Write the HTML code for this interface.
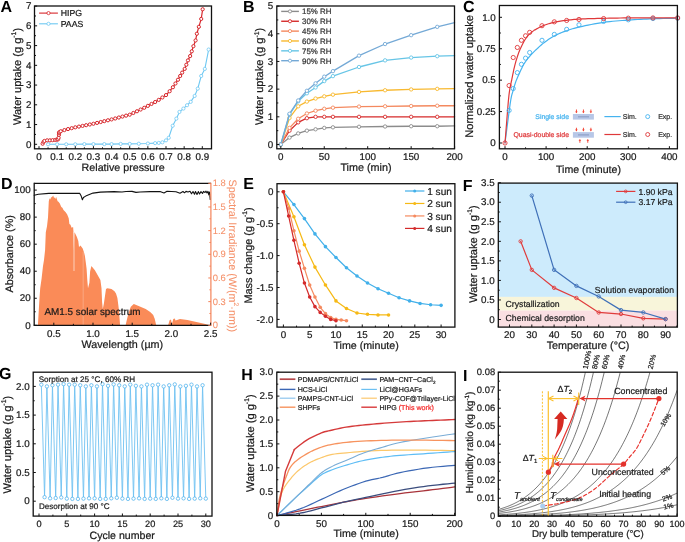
<!DOCTYPE html>
<html><head><meta charset="utf-8"><style>
html,body{margin:0;padding:0;background:#fff;}
svg{display:block;will-change:transform;text-rendering:geometricPrecision;font-family:"Liberation Sans", sans-serif;}
</style></head><body>
<svg width="685" height="542" viewBox="0 0 685 542">
<rect width="685" height="542" fill="#fff"/>
<text x="0.5" y="12.3" font-size="16" text-anchor="start" fill="#000" font-weight="bold" style="">A</text>
<polyline points="48.07,144.3 57.14,144.3 66.22,144.3 75.29,144.3 84.36,144.1 93.43,144.1 104.32,144.1 111.58,144.1 120.65,143.91 129.72,143.91 138.79,143.71 147.87,143.51 155.12,143.12 158.75,142.92 162.38,142.33 166.01,140.35 168.73,137.78 172.72,125.74 176.35,118.63 179.44,111.92 183.43,108.57 187.06,105.21 190.69,101.85 194.68,95.93 197.76,88.63 201.21,75.99 204.84,68.88 208.65,49.53" fill="none" stroke="#6ec8f2" stroke-width="1.1" stroke-linejoin="round" stroke-linecap="round"/>
<circle cx="48.07" cy="144.3" r="1.6" fill="#fff" stroke="#6ec8f2" stroke-width="0.8"/>
<circle cx="57.14" cy="144.3" r="1.6" fill="#fff" stroke="#6ec8f2" stroke-width="0.8"/>
<circle cx="66.22" cy="144.3" r="1.6" fill="#fff" stroke="#6ec8f2" stroke-width="0.8"/>
<circle cx="75.29" cy="144.3" r="1.6" fill="#fff" stroke="#6ec8f2" stroke-width="0.8"/>
<circle cx="84.36" cy="144.1" r="1.6" fill="#fff" stroke="#6ec8f2" stroke-width="0.8"/>
<circle cx="93.43" cy="144.1" r="1.6" fill="#fff" stroke="#6ec8f2" stroke-width="0.8"/>
<circle cx="104.32" cy="144.1" r="1.6" fill="#fff" stroke="#6ec8f2" stroke-width="0.8"/>
<circle cx="111.58" cy="144.1" r="1.6" fill="#fff" stroke="#6ec8f2" stroke-width="0.8"/>
<circle cx="120.65" cy="143.91" r="1.6" fill="#fff" stroke="#6ec8f2" stroke-width="0.8"/>
<circle cx="129.72" cy="143.91" r="1.6" fill="#fff" stroke="#6ec8f2" stroke-width="0.8"/>
<circle cx="138.79" cy="143.71" r="1.6" fill="#fff" stroke="#6ec8f2" stroke-width="0.8"/>
<circle cx="147.87" cy="143.51" r="1.6" fill="#fff" stroke="#6ec8f2" stroke-width="0.8"/>
<circle cx="155.12" cy="143.12" r="1.6" fill="#fff" stroke="#6ec8f2" stroke-width="0.8"/>
<circle cx="158.75" cy="142.92" r="1.6" fill="#fff" stroke="#6ec8f2" stroke-width="0.8"/>
<circle cx="162.38" cy="142.33" r="1.6" fill="#fff" stroke="#6ec8f2" stroke-width="0.8"/>
<circle cx="166.01" cy="140.35" r="1.6" fill="#fff" stroke="#6ec8f2" stroke-width="0.8"/>
<circle cx="168.73" cy="137.78" r="1.6" fill="#fff" stroke="#6ec8f2" stroke-width="0.8"/>
<circle cx="172.72" cy="125.74" r="1.6" fill="#fff" stroke="#6ec8f2" stroke-width="0.8"/>
<circle cx="176.35" cy="118.63" r="1.6" fill="#fff" stroke="#6ec8f2" stroke-width="0.8"/>
<circle cx="179.44" cy="111.92" r="1.6" fill="#fff" stroke="#6ec8f2" stroke-width="0.8"/>
<circle cx="183.43" cy="108.57" r="1.6" fill="#fff" stroke="#6ec8f2" stroke-width="0.8"/>
<circle cx="187.06" cy="105.21" r="1.6" fill="#fff" stroke="#6ec8f2" stroke-width="0.8"/>
<circle cx="190.69" cy="101.85" r="1.6" fill="#fff" stroke="#6ec8f2" stroke-width="0.8"/>
<circle cx="194.68" cy="95.93" r="1.6" fill="#fff" stroke="#6ec8f2" stroke-width="0.8"/>
<circle cx="197.76" cy="88.63" r="1.6" fill="#fff" stroke="#6ec8f2" stroke-width="0.8"/>
<circle cx="201.21" cy="75.99" r="1.6" fill="#fff" stroke="#6ec8f2" stroke-width="0.8"/>
<circle cx="204.84" cy="68.88" r="1.6" fill="#fff" stroke="#6ec8f2" stroke-width="0.8"/>
<circle cx="208.65" cy="49.53" r="1.6" fill="#fff" stroke="#6ec8f2" stroke-width="0.8"/>
<polyline points="42.63,143.71 43.54,141.93 44.44,140.94 47.16,140.35 49.89,140.35 52.61,140.15 55.33,139.96 57.14,139.56 58.05,139.36 58.6,137.78 58.96,134.82 58.96,132.85 59.5,132.06 60.77,131.27 64.4,130.09 68.03,129.06 71.66,128.19 75.29,127.32 78.92,126.61 82.55,125.9 86.18,125.19 89.8,124.48 93.43,123.77 97.06,122.9 100.69,122.03 104.32,121.16 107.95,120.29 111.58,119.42 115.21,118.48 118.84,117.53 122.46,116.58 126.09,115.63 129.72,114.69 133.35,112.97 136.98,111.26 140.61,109.54 144.24,107.79 147.87,105.87 151.5,103.94 155.12,102.02 158.75,99.86 162.38,97.47 166.01,95.07 169.64,91.24 172.91,87.24 175.45,83.49 177.99,79.74 180.16,75.99 182.16,72.63 184.7,68.88 186.33,64.74 187.97,60.39 190.14,56.05 191.78,51.31 193.41,46.18 195.59,40.45 196.86,33.74 198.85,26.83 201.21,18.93 202.66,9.26" fill="none" stroke="#d7262b" stroke-width="1.2" stroke-linejoin="round" stroke-linecap="round"/>
<circle cx="42.63" cy="143.71" r="1.6" fill="#fff" stroke="#d7262b" stroke-width="1.0"/>
<circle cx="43.54" cy="141.93" r="1.6" fill="#fff" stroke="#d7262b" stroke-width="1.0"/>
<circle cx="44.44" cy="140.94" r="1.6" fill="#fff" stroke="#d7262b" stroke-width="1.0"/>
<circle cx="47.16" cy="140.35" r="1.6" fill="#fff" stroke="#d7262b" stroke-width="1.0"/>
<circle cx="49.89" cy="140.35" r="1.6" fill="#fff" stroke="#d7262b" stroke-width="1.0"/>
<circle cx="52.61" cy="140.15" r="1.6" fill="#fff" stroke="#d7262b" stroke-width="1.0"/>
<circle cx="55.33" cy="139.96" r="1.6" fill="#fff" stroke="#d7262b" stroke-width="1.0"/>
<circle cx="57.14" cy="139.56" r="1.6" fill="#fff" stroke="#d7262b" stroke-width="1.0"/>
<circle cx="58.05" cy="139.36" r="1.6" fill="#fff" stroke="#d7262b" stroke-width="1.0"/>
<circle cx="58.6" cy="137.78" r="1.6" fill="#fff" stroke="#d7262b" stroke-width="1.0"/>
<circle cx="58.96" cy="134.82" r="1.6" fill="#fff" stroke="#d7262b" stroke-width="1.0"/>
<circle cx="58.96" cy="132.85" r="1.6" fill="#fff" stroke="#d7262b" stroke-width="1.0"/>
<circle cx="59.5" cy="132.06" r="1.6" fill="#fff" stroke="#d7262b" stroke-width="1.0"/>
<circle cx="60.77" cy="131.27" r="1.6" fill="#fff" stroke="#d7262b" stroke-width="1.0"/>
<circle cx="64.4" cy="130.09" r="1.6" fill="#fff" stroke="#d7262b" stroke-width="1.0"/>
<circle cx="68.03" cy="129.06" r="1.6" fill="#fff" stroke="#d7262b" stroke-width="1.0"/>
<circle cx="71.66" cy="128.19" r="1.6" fill="#fff" stroke="#d7262b" stroke-width="1.0"/>
<circle cx="75.29" cy="127.32" r="1.6" fill="#fff" stroke="#d7262b" stroke-width="1.0"/>
<circle cx="78.92" cy="126.61" r="1.6" fill="#fff" stroke="#d7262b" stroke-width="1.0"/>
<circle cx="82.55" cy="125.9" r="1.6" fill="#fff" stroke="#d7262b" stroke-width="1.0"/>
<circle cx="86.18" cy="125.19" r="1.6" fill="#fff" stroke="#d7262b" stroke-width="1.0"/>
<circle cx="89.8" cy="124.48" r="1.6" fill="#fff" stroke="#d7262b" stroke-width="1.0"/>
<circle cx="93.43" cy="123.77" r="1.6" fill="#fff" stroke="#d7262b" stroke-width="1.0"/>
<circle cx="97.06" cy="122.9" r="1.6" fill="#fff" stroke="#d7262b" stroke-width="1.0"/>
<circle cx="100.69" cy="122.03" r="1.6" fill="#fff" stroke="#d7262b" stroke-width="1.0"/>
<circle cx="104.32" cy="121.16" r="1.6" fill="#fff" stroke="#d7262b" stroke-width="1.0"/>
<circle cx="107.95" cy="120.29" r="1.6" fill="#fff" stroke="#d7262b" stroke-width="1.0"/>
<circle cx="111.58" cy="119.42" r="1.6" fill="#fff" stroke="#d7262b" stroke-width="1.0"/>
<circle cx="115.21" cy="118.48" r="1.6" fill="#fff" stroke="#d7262b" stroke-width="1.0"/>
<circle cx="118.84" cy="117.53" r="1.6" fill="#fff" stroke="#d7262b" stroke-width="1.0"/>
<circle cx="122.46" cy="116.58" r="1.6" fill="#fff" stroke="#d7262b" stroke-width="1.0"/>
<circle cx="126.09" cy="115.63" r="1.6" fill="#fff" stroke="#d7262b" stroke-width="1.0"/>
<circle cx="129.72" cy="114.69" r="1.6" fill="#fff" stroke="#d7262b" stroke-width="1.0"/>
<circle cx="133.35" cy="112.97" r="1.6" fill="#fff" stroke="#d7262b" stroke-width="1.0"/>
<circle cx="136.98" cy="111.26" r="1.6" fill="#fff" stroke="#d7262b" stroke-width="1.0"/>
<circle cx="140.61" cy="109.54" r="1.6" fill="#fff" stroke="#d7262b" stroke-width="1.0"/>
<circle cx="144.24" cy="107.79" r="1.6" fill="#fff" stroke="#d7262b" stroke-width="1.0"/>
<circle cx="147.87" cy="105.87" r="1.6" fill="#fff" stroke="#d7262b" stroke-width="1.0"/>
<circle cx="151.5" cy="103.94" r="1.6" fill="#fff" stroke="#d7262b" stroke-width="1.0"/>
<circle cx="155.12" cy="102.02" r="1.6" fill="#fff" stroke="#d7262b" stroke-width="1.0"/>
<circle cx="158.75" cy="99.86" r="1.6" fill="#fff" stroke="#d7262b" stroke-width="1.0"/>
<circle cx="162.38" cy="97.47" r="1.6" fill="#fff" stroke="#d7262b" stroke-width="1.0"/>
<circle cx="166.01" cy="95.07" r="1.6" fill="#fff" stroke="#d7262b" stroke-width="1.0"/>
<circle cx="169.64" cy="91.24" r="1.6" fill="#fff" stroke="#d7262b" stroke-width="1.0"/>
<circle cx="172.91" cy="87.24" r="1.6" fill="#fff" stroke="#d7262b" stroke-width="1.0"/>
<circle cx="175.45" cy="83.49" r="1.6" fill="#fff" stroke="#d7262b" stroke-width="1.0"/>
<circle cx="177.99" cy="79.74" r="1.6" fill="#fff" stroke="#d7262b" stroke-width="1.0"/>
<circle cx="180.16" cy="75.99" r="1.6" fill="#fff" stroke="#d7262b" stroke-width="1.0"/>
<circle cx="182.16" cy="72.63" r="1.6" fill="#fff" stroke="#d7262b" stroke-width="1.0"/>
<circle cx="184.7" cy="68.88" r="1.6" fill="#fff" stroke="#d7262b" stroke-width="1.0"/>
<circle cx="186.33" cy="64.74" r="1.6" fill="#fff" stroke="#d7262b" stroke-width="1.0"/>
<circle cx="187.97" cy="60.39" r="1.6" fill="#fff" stroke="#d7262b" stroke-width="1.0"/>
<circle cx="190.14" cy="56.05" r="1.6" fill="#fff" stroke="#d7262b" stroke-width="1.0"/>
<circle cx="191.78" cy="51.31" r="1.6" fill="#fff" stroke="#d7262b" stroke-width="1.0"/>
<circle cx="193.41" cy="46.18" r="1.6" fill="#fff" stroke="#d7262b" stroke-width="1.0"/>
<circle cx="195.59" cy="40.45" r="1.6" fill="#fff" stroke="#d7262b" stroke-width="1.0"/>
<circle cx="196.86" cy="33.74" r="1.6" fill="#fff" stroke="#d7262b" stroke-width="1.0"/>
<circle cx="198.85" cy="26.83" r="1.6" fill="#fff" stroke="#d7262b" stroke-width="1.0"/>
<circle cx="201.21" cy="18.93" r="1.6" fill="#fff" stroke="#d7262b" stroke-width="1.0"/>
<circle cx="202.66" cy="9.26" r="1.6" fill="#fff" stroke="#d7262b" stroke-width="1.0"/>
<rect x="34.5" y="6" width="177" height="142.8" fill="none" stroke="#111" stroke-width="1.3"/>
<line x1="39" y1="148.8" x2="39" y2="146.2" stroke="#111" stroke-width="1.0"/>
<line x1="57.14" y1="148.8" x2="57.14" y2="146.2" stroke="#111" stroke-width="1.0"/>
<line x1="75.29" y1="148.8" x2="75.29" y2="146.2" stroke="#111" stroke-width="1.0"/>
<line x1="93.43" y1="148.8" x2="93.43" y2="146.2" stroke="#111" stroke-width="1.0"/>
<line x1="111.58" y1="148.8" x2="111.58" y2="146.2" stroke="#111" stroke-width="1.0"/>
<line x1="129.72" y1="148.8" x2="129.72" y2="146.2" stroke="#111" stroke-width="1.0"/>
<line x1="147.87" y1="148.8" x2="147.87" y2="146.2" stroke="#111" stroke-width="1.0"/>
<line x1="166.01" y1="148.8" x2="166.01" y2="146.2" stroke="#111" stroke-width="1.0"/>
<line x1="184.16" y1="148.8" x2="184.16" y2="146.2" stroke="#111" stroke-width="1.0"/>
<line x1="202.3" y1="148.8" x2="202.3" y2="146.2" stroke="#111" stroke-width="1.0"/>
<line x1="48.07" y1="148.8" x2="48.07" y2="147.3" stroke="#111" stroke-width="1.0"/>
<line x1="66.22" y1="148.8" x2="66.22" y2="147.3" stroke="#111" stroke-width="1.0"/>
<line x1="84.36" y1="148.8" x2="84.36" y2="147.3" stroke="#111" stroke-width="1.0"/>
<line x1="102.51" y1="148.8" x2="102.51" y2="147.3" stroke="#111" stroke-width="1.0"/>
<line x1="120.65" y1="148.8" x2="120.65" y2="147.3" stroke="#111" stroke-width="1.0"/>
<line x1="138.79" y1="148.8" x2="138.79" y2="147.3" stroke="#111" stroke-width="1.0"/>
<line x1="156.94" y1="148.8" x2="156.94" y2="147.3" stroke="#111" stroke-width="1.0"/>
<line x1="175.08" y1="148.8" x2="175.08" y2="147.3" stroke="#111" stroke-width="1.0"/>
<line x1="193.23" y1="148.8" x2="193.23" y2="147.3" stroke="#111" stroke-width="1.0"/>
<text x="39" y="160" font-size="9.8" text-anchor="middle" fill="#1a1a1a" font-weight="normal" stroke="#1a1a1a" stroke-width="0.22" style="">0</text>
<text x="57.14" y="160" font-size="9.8" text-anchor="middle" fill="#1a1a1a" font-weight="normal" stroke="#1a1a1a" stroke-width="0.22" style="">0.1</text>
<text x="75.29" y="160" font-size="9.8" text-anchor="middle" fill="#1a1a1a" font-weight="normal" stroke="#1a1a1a" stroke-width="0.22" style="">0.2</text>
<text x="93.43" y="160" font-size="9.8" text-anchor="middle" fill="#1a1a1a" font-weight="normal" stroke="#1a1a1a" stroke-width="0.22" style="">0.3</text>
<text x="111.58" y="160" font-size="9.8" text-anchor="middle" fill="#1a1a1a" font-weight="normal" stroke="#1a1a1a" stroke-width="0.22" style="">0.4</text>
<text x="129.72" y="160" font-size="9.8" text-anchor="middle" fill="#1a1a1a" font-weight="normal" stroke="#1a1a1a" stroke-width="0.22" style="">0.5</text>
<text x="147.87" y="160" font-size="9.8" text-anchor="middle" fill="#1a1a1a" font-weight="normal" stroke="#1a1a1a" stroke-width="0.22" style="">0.6</text>
<text x="166.01" y="160" font-size="9.8" text-anchor="middle" fill="#1a1a1a" font-weight="normal" stroke="#1a1a1a" stroke-width="0.22" style="">0.7</text>
<text x="184.16" y="160" font-size="9.8" text-anchor="middle" fill="#1a1a1a" font-weight="normal" stroke="#1a1a1a" stroke-width="0.22" style="">0.8</text>
<text x="202.3" y="160" font-size="9.8" text-anchor="middle" fill="#1a1a1a" font-weight="normal" stroke="#1a1a1a" stroke-width="0.22" style="">0.9</text>
<line x1="34.5" y1="144.3" x2="37.1" y2="144.3" stroke="#111" stroke-width="1.0"/>
<line x1="34.5" y1="124.56" x2="37.1" y2="124.56" stroke="#111" stroke-width="1.0"/>
<line x1="34.5" y1="104.81" x2="37.1" y2="104.81" stroke="#111" stroke-width="1.0"/>
<line x1="34.5" y1="85.07" x2="37.1" y2="85.07" stroke="#111" stroke-width="1.0"/>
<line x1="34.5" y1="65.33" x2="37.1" y2="65.33" stroke="#111" stroke-width="1.0"/>
<line x1="34.5" y1="45.59" x2="37.1" y2="45.59" stroke="#111" stroke-width="1.0"/>
<line x1="34.5" y1="25.84" x2="37.1" y2="25.84" stroke="#111" stroke-width="1.0"/>
<line x1="34.5" y1="6.1" x2="37.1" y2="6.1" stroke="#111" stroke-width="1.0"/>
<line x1="34.5" y1="134.43" x2="36" y2="134.43" stroke="#111" stroke-width="1.0"/>
<line x1="34.5" y1="114.69" x2="36" y2="114.69" stroke="#111" stroke-width="1.0"/>
<line x1="34.5" y1="94.94" x2="36" y2="94.94" stroke="#111" stroke-width="1.0"/>
<line x1="34.5" y1="75.2" x2="36" y2="75.2" stroke="#111" stroke-width="1.0"/>
<line x1="34.5" y1="55.46" x2="36" y2="55.46" stroke="#111" stroke-width="1.0"/>
<line x1="34.5" y1="35.71" x2="36" y2="35.71" stroke="#111" stroke-width="1.0"/>
<line x1="34.5" y1="15.97" x2="36" y2="15.97" stroke="#111" stroke-width="1.0"/>
<text x="31.5" y="147.53" font-size="9.8" text-anchor="end" fill="#1a1a1a" font-weight="normal" stroke="#1a1a1a" stroke-width="0.22" style="">0</text>
<text x="31.5" y="127.79" font-size="9.8" text-anchor="end" fill="#1a1a1a" font-weight="normal" stroke="#1a1a1a" stroke-width="0.22" style="">1</text>
<text x="31.5" y="108.05" font-size="9.8" text-anchor="end" fill="#1a1a1a" font-weight="normal" stroke="#1a1a1a" stroke-width="0.22" style="">2</text>
<text x="31.5" y="88.31" font-size="9.8" text-anchor="end" fill="#1a1a1a" font-weight="normal" stroke="#1a1a1a" stroke-width="0.22" style="">3</text>
<text x="31.5" y="68.56" font-size="9.8" text-anchor="end" fill="#1a1a1a" font-weight="normal" stroke="#1a1a1a" stroke-width="0.22" style="">4</text>
<text x="31.5" y="48.82" font-size="9.8" text-anchor="end" fill="#1a1a1a" font-weight="normal" stroke="#1a1a1a" stroke-width="0.22" style="">5</text>
<text x="31.5" y="29.08" font-size="9.8" text-anchor="end" fill="#1a1a1a" font-weight="normal" stroke="#1a1a1a" stroke-width="0.22" style="">6</text>
<text x="31.5" y="9.33" font-size="9.8" text-anchor="end" fill="#1a1a1a" font-weight="normal" stroke="#1a1a1a" stroke-width="0.22" style="">7</text>
<text x="123.2" y="170.7" font-size="10.7" text-anchor="middle" fill="#1a1a1a" font-weight="normal" stroke="#1a1a1a" stroke-width="0.22" style="">Relative pressure</text>
<text x="20.8" y="76.5" font-size="11.05" text-anchor="middle" fill="#1a1a1a" stroke="#1a1a1a" stroke-width="0.22" transform="rotate(-90 20.8 76.5)">Water uptake (g g<tspan font-size="6.85" dy="-4.64">-1</tspan><tspan dy="4.64">)</tspan></text>
<line x1="39.1" y1="13.1" x2="57.9" y2="13.1" stroke="#d7262b" stroke-width="1.1"/>
<circle cx="48.5" cy="13.1" r="1.6" fill="#fff" stroke="#d7262b" stroke-width="0.8"/>
<text x="60.7" y="16.2" font-size="8.7" text-anchor="start" fill="#1a1a1a" font-weight="normal" stroke="#1a1a1a" stroke-width="0.22" style="">HIPG</text>
<line x1="39.1" y1="23.799999999999997" x2="57.9" y2="23.799999999999997" stroke="#6ec8f2" stroke-width="1.1"/>
<circle cx="48.5" cy="23.8" r="1.6" fill="#fff" stroke="#6ec8f2" stroke-width="0.8"/>
<text x="60.7" y="26.9" font-size="8.7" text-anchor="start" fill="#1a1a1a" font-weight="normal" stroke="#1a1a1a" stroke-width="0.22" style="">PAAS</text>
<text x="243" y="12.1" font-size="16" text-anchor="start" fill="#000" font-weight="bold" style="">B</text>
<polyline points="280.8,144.5 289.49,137.58 298.18,133.43 306.87,130.66 315.56,129.28 324.25,127.89 332.94,127.34 359.01,126.78 385.08,126.51 411.15,126.23 437.22,126.23 454.6,125.95" fill="none" stroke="#8c8c8c" stroke-width="1.3" stroke-linejoin="round" stroke-linecap="round"/>
<circle cx="280.8" cy="144.5" r="1.7" fill="#fff" stroke="#8c8c8c" stroke-width="0.9"/>
<circle cx="289.49" cy="137.58" r="1.7" fill="#fff" stroke="#8c8c8c" stroke-width="0.9"/>
<circle cx="298.18" cy="133.43" r="1.7" fill="#fff" stroke="#8c8c8c" stroke-width="0.9"/>
<circle cx="306.87" cy="130.66" r="1.7" fill="#fff" stroke="#8c8c8c" stroke-width="0.9"/>
<circle cx="315.56" cy="129.28" r="1.7" fill="#fff" stroke="#8c8c8c" stroke-width="0.9"/>
<circle cx="324.25" cy="127.89" r="1.7" fill="#fff" stroke="#8c8c8c" stroke-width="0.9"/>
<circle cx="332.94" cy="127.34" r="1.7" fill="#fff" stroke="#8c8c8c" stroke-width="0.9"/>
<circle cx="359.01" cy="126.78" r="1.7" fill="#fff" stroke="#8c8c8c" stroke-width="0.9"/>
<circle cx="385.08" cy="126.51" r="1.7" fill="#fff" stroke="#8c8c8c" stroke-width="0.9"/>
<circle cx="411.15" cy="126.23" r="1.7" fill="#fff" stroke="#8c8c8c" stroke-width="0.9"/>
<circle cx="437.22" cy="126.23" r="1.7" fill="#fff" stroke="#8c8c8c" stroke-width="0.9"/>
<polyline points="280.8,144.5 289.49,130.66 298.18,122.36 306.87,118.2 315.56,116.82 324.25,116.82 332.94,116.82 359.01,116.82 385.08,116.82 411.15,116.82 437.22,116.82 454.6,116.82" fill="none" stroke="#d62b2b" stroke-width="1.3" stroke-linejoin="round" stroke-linecap="round"/>
<circle cx="280.8" cy="144.5" r="1.7" fill="#fff" stroke="#d62b2b" stroke-width="0.9"/>
<circle cx="289.49" cy="130.66" r="1.7" fill="#fff" stroke="#d62b2b" stroke-width="0.9"/>
<circle cx="298.18" cy="122.36" r="1.7" fill="#fff" stroke="#d62b2b" stroke-width="0.9"/>
<circle cx="306.87" cy="118.2" r="1.7" fill="#fff" stroke="#d62b2b" stroke-width="0.9"/>
<circle cx="315.56" cy="116.82" r="1.7" fill="#fff" stroke="#d62b2b" stroke-width="0.9"/>
<circle cx="324.25" cy="116.82" r="1.7" fill="#fff" stroke="#d62b2b" stroke-width="0.9"/>
<circle cx="332.94" cy="116.82" r="1.7" fill="#fff" stroke="#d62b2b" stroke-width="0.9"/>
<circle cx="359.01" cy="116.82" r="1.7" fill="#fff" stroke="#d62b2b" stroke-width="0.9"/>
<circle cx="385.08" cy="116.82" r="1.7" fill="#fff" stroke="#d62b2b" stroke-width="0.9"/>
<circle cx="411.15" cy="116.82" r="1.7" fill="#fff" stroke="#d62b2b" stroke-width="0.9"/>
<circle cx="437.22" cy="116.82" r="1.7" fill="#fff" stroke="#d62b2b" stroke-width="0.9"/>
<polyline points="280.8,144.5 289.49,127.89 298.18,118.76 306.87,113.5 315.56,110.73 324.25,108.79 332.94,107.69 359.01,106.58 385.08,106.3 411.15,106.02 437.22,105.75 454.6,105.75" fill="none" stroke="#f4895f" stroke-width="1.3" stroke-linejoin="round" stroke-linecap="round"/>
<circle cx="280.8" cy="144.5" r="1.7" fill="#fff" stroke="#f4895f" stroke-width="0.9"/>
<circle cx="289.49" cy="127.89" r="1.7" fill="#fff" stroke="#f4895f" stroke-width="0.9"/>
<circle cx="298.18" cy="118.76" r="1.7" fill="#fff" stroke="#f4895f" stroke-width="0.9"/>
<circle cx="306.87" cy="113.5" r="1.7" fill="#fff" stroke="#f4895f" stroke-width="0.9"/>
<circle cx="315.56" cy="110.73" r="1.7" fill="#fff" stroke="#f4895f" stroke-width="0.9"/>
<circle cx="324.25" cy="108.79" r="1.7" fill="#fff" stroke="#f4895f" stroke-width="0.9"/>
<circle cx="332.94" cy="107.69" r="1.7" fill="#fff" stroke="#f4895f" stroke-width="0.9"/>
<circle cx="359.01" cy="106.58" r="1.7" fill="#fff" stroke="#f4895f" stroke-width="0.9"/>
<circle cx="385.08" cy="106.3" r="1.7" fill="#fff" stroke="#f4895f" stroke-width="0.9"/>
<circle cx="411.15" cy="106.02" r="1.7" fill="#fff" stroke="#f4895f" stroke-width="0.9"/>
<circle cx="437.22" cy="105.75" r="1.7" fill="#fff" stroke="#f4895f" stroke-width="0.9"/>
<polyline points="280.8,144.5 289.49,117.93 298.18,106.3 306.87,101.6 315.56,98.55 324.25,96.34 332.94,94.68 359.01,91.91 385.08,90.25 411.15,89.42 437.22,88.86 454.6,88.59" fill="none" stroke="#f8b930" stroke-width="1.3" stroke-linejoin="round" stroke-linecap="round"/>
<circle cx="280.8" cy="144.5" r="1.7" fill="#fff" stroke="#f8b930" stroke-width="0.9"/>
<circle cx="289.49" cy="117.93" r="1.7" fill="#fff" stroke="#f8b930" stroke-width="0.9"/>
<circle cx="298.18" cy="106.3" r="1.7" fill="#fff" stroke="#f8b930" stroke-width="0.9"/>
<circle cx="306.87" cy="101.6" r="1.7" fill="#fff" stroke="#f8b930" stroke-width="0.9"/>
<circle cx="315.56" cy="98.55" r="1.7" fill="#fff" stroke="#f8b930" stroke-width="0.9"/>
<circle cx="324.25" cy="96.34" r="1.7" fill="#fff" stroke="#f8b930" stroke-width="0.9"/>
<circle cx="332.94" cy="94.68" r="1.7" fill="#fff" stroke="#f8b930" stroke-width="0.9"/>
<circle cx="359.01" cy="91.91" r="1.7" fill="#fff" stroke="#f8b930" stroke-width="0.9"/>
<circle cx="385.08" cy="90.25" r="1.7" fill="#fff" stroke="#f8b930" stroke-width="0.9"/>
<circle cx="411.15" cy="89.42" r="1.7" fill="#fff" stroke="#f8b930" stroke-width="0.9"/>
<circle cx="437.22" cy="88.86" r="1.7" fill="#fff" stroke="#f8b930" stroke-width="0.9"/>
<polyline points="280.8,144.5 289.49,114.61 298.18,101.32 306.87,93.29 315.56,87.48 324.25,81.11 332.94,76.13 359.01,67 385.08,60.35 411.15,57.58 437.22,56.2 454.6,55.65" fill="none" stroke="#67c5e6" stroke-width="1.3" stroke-linejoin="round" stroke-linecap="round"/>
<circle cx="280.8" cy="144.5" r="1.7" fill="#fff" stroke="#67c5e6" stroke-width="0.9"/>
<circle cx="289.49" cy="114.61" r="1.7" fill="#fff" stroke="#67c5e6" stroke-width="0.9"/>
<circle cx="298.18" cy="101.32" r="1.7" fill="#fff" stroke="#67c5e6" stroke-width="0.9"/>
<circle cx="306.87" cy="93.29" r="1.7" fill="#fff" stroke="#67c5e6" stroke-width="0.9"/>
<circle cx="315.56" cy="87.48" r="1.7" fill="#fff" stroke="#67c5e6" stroke-width="0.9"/>
<circle cx="324.25" cy="81.11" r="1.7" fill="#fff" stroke="#67c5e6" stroke-width="0.9"/>
<circle cx="332.94" cy="76.13" r="1.7" fill="#fff" stroke="#67c5e6" stroke-width="0.9"/>
<circle cx="359.01" cy="67" r="1.7" fill="#fff" stroke="#67c5e6" stroke-width="0.9"/>
<circle cx="385.08" cy="60.35" r="1.7" fill="#fff" stroke="#67c5e6" stroke-width="0.9"/>
<circle cx="411.15" cy="57.58" r="1.7" fill="#fff" stroke="#67c5e6" stroke-width="0.9"/>
<circle cx="437.22" cy="56.2" r="1.7" fill="#fff" stroke="#67c5e6" stroke-width="0.9"/>
<polyline points="280.8,144.5 289.49,113.78 298.18,100.49 306.87,90.8 315.56,83.33 324.25,76.68 332.94,71.15 359.01,55.65 385.08,44.02 411.15,35.16 437.22,26.86 454.6,22.71" fill="none" stroke="#74a9d6" stroke-width="1.3" stroke-linejoin="round" stroke-linecap="round"/>
<circle cx="280.8" cy="144.5" r="1.7" fill="#fff" stroke="#74a9d6" stroke-width="0.9"/>
<circle cx="289.49" cy="113.78" r="1.7" fill="#fff" stroke="#74a9d6" stroke-width="0.9"/>
<circle cx="298.18" cy="100.49" r="1.7" fill="#fff" stroke="#74a9d6" stroke-width="0.9"/>
<circle cx="306.87" cy="90.8" r="1.7" fill="#fff" stroke="#74a9d6" stroke-width="0.9"/>
<circle cx="315.56" cy="83.33" r="1.7" fill="#fff" stroke="#74a9d6" stroke-width="0.9"/>
<circle cx="324.25" cy="76.68" r="1.7" fill="#fff" stroke="#74a9d6" stroke-width="0.9"/>
<circle cx="332.94" cy="71.15" r="1.7" fill="#fff" stroke="#74a9d6" stroke-width="0.9"/>
<circle cx="359.01" cy="55.65" r="1.7" fill="#fff" stroke="#74a9d6" stroke-width="0.9"/>
<circle cx="385.08" cy="44.02" r="1.7" fill="#fff" stroke="#74a9d6" stroke-width="0.9"/>
<circle cx="411.15" cy="35.16" r="1.7" fill="#fff" stroke="#74a9d6" stroke-width="0.9"/>
<circle cx="437.22" cy="26.86" r="1.7" fill="#fff" stroke="#74a9d6" stroke-width="0.9"/>
<rect x="276.8" y="6" width="177.7" height="142.8" fill="none" stroke="#111" stroke-width="1.3"/>
<line x1="280.8" y1="148.8" x2="280.8" y2="146.2" stroke="#111" stroke-width="1.0"/>
<line x1="324.25" y1="148.8" x2="324.25" y2="146.2" stroke="#111" stroke-width="1.0"/>
<line x1="367.7" y1="148.8" x2="367.7" y2="146.2" stroke="#111" stroke-width="1.0"/>
<line x1="411.15" y1="148.8" x2="411.15" y2="146.2" stroke="#111" stroke-width="1.0"/>
<line x1="454.6" y1="148.8" x2="454.6" y2="146.2" stroke="#111" stroke-width="1.0"/>
<line x1="302.53" y1="148.8" x2="302.53" y2="147.3" stroke="#111" stroke-width="1.0"/>
<line x1="345.98" y1="148.8" x2="345.98" y2="147.3" stroke="#111" stroke-width="1.0"/>
<line x1="389.43" y1="148.8" x2="389.43" y2="147.3" stroke="#111" stroke-width="1.0"/>
<line x1="432.88" y1="148.8" x2="432.88" y2="147.3" stroke="#111" stroke-width="1.0"/>
<text x="280.8" y="160" font-size="9.8" text-anchor="middle" fill="#1a1a1a" font-weight="normal" stroke="#1a1a1a" stroke-width="0.22" style="">0</text>
<text x="324.25" y="160" font-size="9.8" text-anchor="middle" fill="#1a1a1a" font-weight="normal" stroke="#1a1a1a" stroke-width="0.22" style="">50</text>
<text x="367.7" y="160" font-size="9.8" text-anchor="middle" fill="#1a1a1a" font-weight="normal" stroke="#1a1a1a" stroke-width="0.22" style="">100</text>
<text x="411.15" y="160" font-size="9.8" text-anchor="middle" fill="#1a1a1a" font-weight="normal" stroke="#1a1a1a" stroke-width="0.22" style="">150</text>
<text x="454.6" y="160" font-size="9.8" text-anchor="middle" fill="#1a1a1a" font-weight="normal" stroke="#1a1a1a" stroke-width="0.22" style="">200</text>
<line x1="276.8" y1="144.5" x2="279.4" y2="144.5" stroke="#111" stroke-width="1.0"/>
<line x1="276.8" y1="116.82" x2="279.4" y2="116.82" stroke="#111" stroke-width="1.0"/>
<line x1="276.8" y1="89.14" x2="279.4" y2="89.14" stroke="#111" stroke-width="1.0"/>
<line x1="276.8" y1="61.46" x2="279.4" y2="61.46" stroke="#111" stroke-width="1.0"/>
<line x1="276.8" y1="33.78" x2="279.4" y2="33.78" stroke="#111" stroke-width="1.0"/>
<line x1="276.8" y1="6.1" x2="279.4" y2="6.1" stroke="#111" stroke-width="1.0"/>
<line x1="276.8" y1="130.66" x2="278.3" y2="130.66" stroke="#111" stroke-width="1.0"/>
<line x1="276.8" y1="102.98" x2="278.3" y2="102.98" stroke="#111" stroke-width="1.0"/>
<line x1="276.8" y1="75.3" x2="278.3" y2="75.3" stroke="#111" stroke-width="1.0"/>
<line x1="276.8" y1="47.62" x2="278.3" y2="47.62" stroke="#111" stroke-width="1.0"/>
<line x1="276.8" y1="19.94" x2="278.3" y2="19.94" stroke="#111" stroke-width="1.0"/>
<text x="273.2" y="147.73" font-size="9.8" text-anchor="end" fill="#1a1a1a" font-weight="normal" stroke="#1a1a1a" stroke-width="0.22" style="">0</text>
<text x="273.2" y="120.05" font-size="9.8" text-anchor="end" fill="#1a1a1a" font-weight="normal" stroke="#1a1a1a" stroke-width="0.22" style="">1</text>
<text x="273.2" y="92.37" font-size="9.8" text-anchor="end" fill="#1a1a1a" font-weight="normal" stroke="#1a1a1a" stroke-width="0.22" style="">2</text>
<text x="273.2" y="64.69" font-size="9.8" text-anchor="end" fill="#1a1a1a" font-weight="normal" stroke="#1a1a1a" stroke-width="0.22" style="">3</text>
<text x="273.2" y="37.01" font-size="9.8" text-anchor="end" fill="#1a1a1a" font-weight="normal" stroke="#1a1a1a" stroke-width="0.22" style="">4</text>
<text x="273.2" y="9.33" font-size="9.8" text-anchor="end" fill="#1a1a1a" font-weight="normal" stroke="#1a1a1a" stroke-width="0.22" style="">5</text>
<text x="366" y="170.7" font-size="10.8" text-anchor="middle" fill="#1a1a1a" font-weight="normal" stroke="#1a1a1a" stroke-width="0.22" style="">Time (min)</text>
<text x="263.5" y="76.4" font-size="11.05" text-anchor="middle" fill="#1a1a1a" stroke="#1a1a1a" stroke-width="0.22" transform="rotate(-90 263.5 76.4)">Water uptake (g g<tspan font-size="6.85" dy="-4.64">-1</tspan><tspan dy="4.64">)</tspan></text>
<line x1="281.2" y1="11.40" x2="298.9" y2="11.40" stroke="#8c8c8c" stroke-width="1.4"/>
<circle cx="290" cy="11.4" r="1.6" fill="#fff" stroke="#8c8c8c" stroke-width="0.9"/>
<text x="302.1" y="14.2" font-size="7.9" text-anchor="start" fill="#333" font-weight="normal" stroke="#333" stroke-width="0.22" style="">15% RH</text>
<line x1="281.2" y1="21.26" x2="298.9" y2="21.26" stroke="#d62b2b" stroke-width="1.4"/>
<circle cx="290" cy="21.26" r="1.6" fill="#fff" stroke="#d62b2b" stroke-width="0.9"/>
<text x="302.1" y="24.06" font-size="7.9" text-anchor="start" fill="#333" font-weight="normal" stroke="#333" stroke-width="0.22" style="">30% RH</text>
<line x1="281.2" y1="31.12" x2="298.9" y2="31.12" stroke="#f4895f" stroke-width="1.4"/>
<circle cx="290" cy="31.12" r="1.6" fill="#fff" stroke="#f4895f" stroke-width="0.9"/>
<text x="302.1" y="33.92" font-size="7.9" text-anchor="start" fill="#333" font-weight="normal" stroke="#333" stroke-width="0.22" style="">45% RH</text>
<line x1="281.2" y1="40.98" x2="298.9" y2="40.98" stroke="#f8b930" stroke-width="1.4"/>
<circle cx="290" cy="40.98" r="1.6" fill="#fff" stroke="#f8b930" stroke-width="0.9"/>
<text x="302.1" y="43.78" font-size="7.9" text-anchor="start" fill="#333" font-weight="normal" stroke="#333" stroke-width="0.22" style="">60% RH</text>
<line x1="281.2" y1="50.84" x2="298.9" y2="50.84" stroke="#67c5e6" stroke-width="1.4"/>
<circle cx="290" cy="50.84" r="1.6" fill="#fff" stroke="#67c5e6" stroke-width="0.9"/>
<text x="302.1" y="53.64" font-size="7.9" text-anchor="start" fill="#333" font-weight="normal" stroke="#333" stroke-width="0.22" style="">75% RH</text>
<line x1="281.2" y1="60.70" x2="298.9" y2="60.70" stroke="#74a9d6" stroke-width="1.4"/>
<circle cx="290" cy="60.7" r="1.6" fill="#fff" stroke="#74a9d6" stroke-width="0.9"/>
<text x="302.1" y="63.5" font-size="7.9" text-anchor="start" fill="#333" font-weight="normal" stroke="#333" stroke-width="0.22" style="">90% RH</text>
<text x="463.1" y="12.4" font-size="16" text-anchor="start" fill="#000" font-weight="bold" style="">C</text>
<polyline points="505,143 505.22,141.3 505.52,139.03 505.87,136.33 506.26,133.33 506.67,130.16 507.09,126.96 507.5,123.87 507.88,121 508.24,118.23 508.62,115.36 509,112.45 509.37,109.58 509.74,106.81 510.11,104.2 510.46,101.83 510.8,99.76 511.11,98.03 511.4,96.62 511.68,95.43 511.95,94.42 512.22,93.49 512.5,92.59 512.79,91.65 513.1,90.58 513.42,89.42 513.75,88.25 514.09,87.06 514.44,85.89 514.79,84.72 515.15,83.58 515.52,82.47 515.89,81.41 516.28,80.39 516.67,79.4 517.08,78.44 517.49,77.5 517.91,76.59 518.32,75.71 518.71,74.84 519.1,73.99 519.47,73.16 519.83,72.35 520.19,71.57 520.54,70.8 520.88,70.06 521.22,69.34 521.56,68.64 521.89,67.96 522.19,67.33 522.45,66.78 522.69,66.26 522.94,65.76 523.21,65.24 523.52,64.68 523.91,64.04 524.4,63.31 524.98,62.46 525.64,61.52 526.36,60.52 527.14,59.46 527.95,58.39 528.8,57.32 529.66,56.27 530.52,55.26 531.42,54.28 532.36,53.3 533.33,52.32 534.32,51.35 535.32,50.4 536.31,49.47 537.28,48.57 538.21,47.72 539.08,46.91 539.9,46.16 540.69,45.44 541.48,44.74 542.28,44.06 543.12,43.37 544.01,42.67 544.99,41.94 546.04,41.18 547.14,40.4 548.29,39.61 549.49,38.81 550.72,38.02 551.98,37.25 553.28,36.5 554.61,35.78 555.97,35.09 557.36,34.41 558.79,33.76 560.26,33.12 561.75,32.5 563.28,31.9 564.83,31.32 566.4,30.75 567.95,30.21 569.44,29.71 570.93,29.23 572.47,28.77 574.09,28.31 575.86,27.85 577.81,27.36 580.01,26.85 582.47,26.3 585.19,25.71 588.09,25.1 591.13,24.49 594.26,23.89 597.42,23.31 600.57,22.79 603.64,22.33 606.67,21.93 609.73,21.58 612.81,21.27 615.91,20.99 619.01,20.74 622.11,20.51 625.21,20.28 628.3,20.07 631.38,19.86 634.47,19.67 637.55,19.49 640.63,19.33 643.71,19.19 646.79,19.05 649.88,18.93 652.96,18.81 656.21,18.7 659.7,18.59 663.29,18.5 666.83,18.42 670.18,18.34 673.19,18.28 675.72,18.22 677.62,18.18" fill="none" stroke="#45b3ef" stroke-width="1.2" stroke-linejoin="round" stroke-linecap="round"/>
<polyline points="505,143 505.13,141.41 505.29,139.31 505.49,136.82 505.71,134.04 505.94,131.08 506.18,128.05 506.42,125.08 506.64,122.26 506.87,119.45 507.1,116.49 507.34,113.45 507.58,110.4 507.82,107.44 508.06,104.62 508.28,102.04 508.49,99.76 508.69,97.82 508.86,96.15 509.03,94.69 509.19,93.4 509.35,92.2 509.52,91.06 509.7,89.91 509.89,88.7 510.1,87.47 510.32,86.32 510.55,85.2 510.78,84.11 511.02,83.02 511.27,81.9 511.52,80.75 511.78,79.52 512.05,78.21 512.33,76.83 512.61,75.41 512.91,73.96 513.2,72.52 513.5,71.1 513.79,69.74 514.08,68.46 514.36,67.27 514.63,66.16 514.88,65.11 515.15,64.08 515.42,63.06 515.71,62.02 516.03,60.94 516.38,59.79 516.76,58.57 517.16,57.32 517.57,56.04 518,54.74 518.47,53.41 518.96,52.06 519.5,50.71 520.08,49.35 520.72,47.95 521.41,46.48 522.14,44.97 522.9,43.46 523.69,41.98 524.49,40.56 525.29,39.24 526.08,38.04 526.86,36.98 527.61,36.02 528.37,35.15 529.14,34.35 529.94,33.59 530.79,32.86 531.7,32.13 532.7,31.38 533.79,30.62 534.94,29.87 536.16,29.14 537.43,28.42 538.74,27.73 540.08,27.07 541.44,26.44 542.81,25.85 544.21,25.29 545.64,24.76 547.11,24.27 548.6,23.8 550.11,23.36 551.62,22.95 553.12,22.56 554.61,22.2 556.07,21.88 557.51,21.59 558.95,21.34 560.39,21.11 561.85,20.9 563.33,20.7 564.84,20.51 566.4,20.32 567.95,20.13 569.44,19.95 570.93,19.78 572.47,19.62 574.09,19.47 575.86,19.32 577.81,19.19 580.01,19.06 582.47,18.94 585.19,18.83 588.09,18.72 591.13,18.63 594.26,18.54 597.42,18.46 600.57,18.38 603.64,18.31 606.5,18.24 609.15,18.18 611.73,18.13 614.36,18.08 617.2,18.03 620.38,18 624.03,17.96 628.3,17.93 633.62,17.9 640.05,17.88 647.16,17.86 654.5,17.84 661.65,17.83 668.18,17.82 673.65,17.81 677.62,17.8" fill="none" stroke="#df383a" stroke-width="1.2" stroke-linejoin="round" stroke-linecap="round"/>
<circle cx="509.11" cy="110.44" r="2.1" fill="none" stroke="#45b3ef" stroke-width="0.9"/>
<circle cx="513.22" cy="88.57" r="2.1" fill="none" stroke="#45b3ef" stroke-width="0.9"/>
<circle cx="517.33" cy="72.61" r="2.1" fill="none" stroke="#45b3ef" stroke-width="0.9"/>
<circle cx="521.44" cy="64.31" r="2.1" fill="none" stroke="#45b3ef" stroke-width="0.9"/>
<circle cx="525.55" cy="58.15" r="2.1" fill="none" stroke="#45b3ef" stroke-width="0.9"/>
<circle cx="529.66" cy="52.5" r="2.1" fill="none" stroke="#45b3ef" stroke-width="0.9"/>
<circle cx="541.99" cy="40.3" r="2.1" fill="none" stroke="#45b3ef" stroke-width="0.9"/>
<circle cx="554.32" cy="34.4" r="2.1" fill="none" stroke="#45b3ef" stroke-width="0.9"/>
<circle cx="566.65" cy="29.37" r="2.1" fill="none" stroke="#45b3ef" stroke-width="0.9"/>
<circle cx="578.98" cy="24.84" r="2.1" fill="none" stroke="#45b3ef" stroke-width="0.9"/>
<circle cx="603.64" cy="21.45" r="2.1" fill="none" stroke="#45b3ef" stroke-width="0.9"/>
<circle cx="628.3" cy="19.81" r="2.1" fill="none" stroke="#45b3ef" stroke-width="0.9"/>
<circle cx="652.96" cy="18.56" r="2.1" fill="none" stroke="#45b3ef" stroke-width="0.9"/>
<circle cx="677.62" cy="18.18" r="2.1" fill="none" stroke="#45b3ef" stroke-width="0.9"/>
<circle cx="505" cy="143" r="2.1" fill="none" stroke="#df383a" stroke-width="0.9"/>
<circle cx="509.11" cy="85.56" r="2.1" fill="none" stroke="#df383a" stroke-width="0.9"/>
<circle cx="513.22" cy="57.52" r="2.1" fill="none" stroke="#df383a" stroke-width="0.9"/>
<circle cx="517.33" cy="47.47" r="2.1" fill="none" stroke="#df383a" stroke-width="0.9"/>
<circle cx="521.44" cy="40.3" r="2.1" fill="none" stroke="#df383a" stroke-width="0.9"/>
<circle cx="525.55" cy="35.78" r="2.1" fill="none" stroke="#df383a" stroke-width="0.9"/>
<circle cx="529.66" cy="32.38" r="2.1" fill="none" stroke="#df383a" stroke-width="0.9"/>
<circle cx="541.99" cy="25.72" r="2.1" fill="none" stroke="#df383a" stroke-width="0.9"/>
<circle cx="554.32" cy="21.83" r="2.1" fill="none" stroke="#df383a" stroke-width="0.9"/>
<circle cx="566.65" cy="20.44" r="2.1" fill="none" stroke="#df383a" stroke-width="0.9"/>
<circle cx="578.98" cy="19.44" r="2.1" fill="none" stroke="#df383a" stroke-width="0.9"/>
<circle cx="603.64" cy="18.56" r="2.1" fill="none" stroke="#df383a" stroke-width="0.9"/>
<circle cx="628.3" cy="18.18" r="2.1" fill="none" stroke="#df383a" stroke-width="0.9"/>
<circle cx="652.96" cy="17.93" r="2.1" fill="none" stroke="#df383a" stroke-width="0.9"/>
<circle cx="677.62" cy="17.93" r="2.1" fill="none" stroke="#df383a" stroke-width="0.9"/>
<rect x="499.4" y="5.5" width="178" height="143.3" fill="none" stroke="#111" stroke-width="1.3"/>
<line x1="505" y1="148.8" x2="505" y2="146.2" stroke="#111" stroke-width="1.0"/>
<line x1="546.1" y1="148.8" x2="546.1" y2="146.2" stroke="#111" stroke-width="1.0"/>
<line x1="587.2" y1="148.8" x2="587.2" y2="146.2" stroke="#111" stroke-width="1.0"/>
<line x1="628.3" y1="148.8" x2="628.3" y2="146.2" stroke="#111" stroke-width="1.0"/>
<line x1="669.4" y1="148.8" x2="669.4" y2="146.2" stroke="#111" stroke-width="1.0"/>
<line x1="525.55" y1="148.8" x2="525.55" y2="147.3" stroke="#111" stroke-width="1.0"/>
<line x1="566.65" y1="148.8" x2="566.65" y2="147.3" stroke="#111" stroke-width="1.0"/>
<line x1="607.75" y1="148.8" x2="607.75" y2="147.3" stroke="#111" stroke-width="1.0"/>
<line x1="648.85" y1="148.8" x2="648.85" y2="147.3" stroke="#111" stroke-width="1.0"/>
<text x="505" y="160" font-size="9.8" text-anchor="middle" fill="#1a1a1a" font-weight="normal" stroke="#1a1a1a" stroke-width="0.22" style="">0</text>
<text x="546.1" y="160" font-size="9.8" text-anchor="middle" fill="#1a1a1a" font-weight="normal" stroke="#1a1a1a" stroke-width="0.22" style="">100</text>
<text x="587.2" y="160" font-size="9.8" text-anchor="middle" fill="#1a1a1a" font-weight="normal" stroke="#1a1a1a" stroke-width="0.22" style="">200</text>
<text x="628.3" y="160" font-size="9.8" text-anchor="middle" fill="#1a1a1a" font-weight="normal" stroke="#1a1a1a" stroke-width="0.22" style="">300</text>
<text x="669.4" y="160" font-size="9.8" text-anchor="middle" fill="#1a1a1a" font-weight="normal" stroke="#1a1a1a" stroke-width="0.22" style="">400</text>
<line x1="499.4" y1="143" x2="502" y2="143" stroke="#111" stroke-width="1.0"/>
<line x1="499.4" y1="111.58" x2="502" y2="111.58" stroke="#111" stroke-width="1.0"/>
<line x1="499.4" y1="80.15" x2="502" y2="80.15" stroke="#111" stroke-width="1.0"/>
<line x1="499.4" y1="48.72" x2="502" y2="48.72" stroke="#111" stroke-width="1.0"/>
<line x1="499.4" y1="17.3" x2="502" y2="17.3" stroke="#111" stroke-width="1.0"/>
<line x1="499.4" y1="127.29" x2="500.9" y2="127.29" stroke="#111" stroke-width="1.0"/>
<line x1="499.4" y1="95.86" x2="500.9" y2="95.86" stroke="#111" stroke-width="1.0"/>
<line x1="499.4" y1="64.44" x2="500.9" y2="64.44" stroke="#111" stroke-width="1.0"/>
<line x1="499.4" y1="33.01" x2="500.9" y2="33.01" stroke="#111" stroke-width="1.0"/>
<text x="495.8" y="146.23" font-size="9.8" text-anchor="end" fill="#1a1a1a" font-weight="normal" stroke="#1a1a1a" stroke-width="0.22" style="">0</text>
<text x="495.8" y="114.81" font-size="9.8" text-anchor="end" fill="#1a1a1a" font-weight="normal" stroke="#1a1a1a" stroke-width="0.22" style="">0.25</text>
<text x="495.8" y="83.38" font-size="9.8" text-anchor="end" fill="#1a1a1a" font-weight="normal" stroke="#1a1a1a" stroke-width="0.22" style="">0.5</text>
<text x="495.8" y="51.96" font-size="9.8" text-anchor="end" fill="#1a1a1a" font-weight="normal" stroke="#1a1a1a" stroke-width="0.22" style="">0.75</text>
<text x="495.8" y="20.53" font-size="9.8" text-anchor="end" fill="#1a1a1a" font-weight="normal" stroke="#1a1a1a" stroke-width="0.22" style="">1.0</text>
<text x="588.5" y="173.1" font-size="10.6" text-anchor="middle" fill="#1a1a1a" font-weight="normal" stroke="#1a1a1a" stroke-width="0.22" style="">Time (minute)</text>
<text x="472.8" y="76.4" font-size="11.1" text-anchor="middle" fill="#1a1a1a" font-weight="normal" stroke="#1a1a1a" stroke-width="0.22" transform="rotate(-90 472.8 76.4)" style="">Normalized water uptake</text>
<text x="569" y="118.6" font-size="6.9" text-anchor="end" fill="#45b3ef" font-weight="normal" stroke="#45b3ef" stroke-width="0.22" style="">Single side</text>
<text x="569" y="137" font-size="6.9" text-anchor="end" fill="#df383a" font-weight="normal" stroke="#df383a" stroke-width="0.22" style="">Quasi-double side</text>
<rect x="572.9" y="114.0" width="21" height="5.6" fill="#b7c7e7"/>
<rect x="578" y="116.2" width="11" height="1.2" fill="#6070a0" opacity="0.45"/>
<path d="M576.4,113.3 L575.1,111.5 L575.9499999999999,111.5 L575.9499999999999,109.6 L576.85,109.6 L576.85,111.5 L577.6999999999999,111.5 Z" fill="#f23a2a"/>
<path d="M583.4,113.3 L582.1,111.5 L582.9499999999999,111.5 L582.9499999999999,109.6 L583.85,109.6 L583.85,111.5 L584.6999999999999,111.5 Z" fill="#f23a2a"/>
<path d="M590.9,113.3 L589.6,111.5 L590.4499999999999,111.5 L590.4499999999999,109.6 L591.35,109.6 L591.35,111.5 L592.1999999999999,111.5 Z" fill="#f23a2a"/>
<rect x="572.9" y="132.1" width="21" height="5.6" fill="#b7c7e7"/>
<rect x="578" y="134.29999999999998" width="11" height="1.2" fill="#6070a0" opacity="0.45"/>
<path d="M576.4,131.4 L575.1,129.6 L575.9499999999999,129.6 L575.9499999999999,127.69999999999999 L576.85,127.69999999999999 L576.85,129.6 L577.6999999999999,129.6 Z" fill="#f23a2a"/>
<path d="M583.4,131.4 L582.1,129.6 L582.9499999999999,129.6 L582.9499999999999,127.69999999999999 L583.85,127.69999999999999 L583.85,129.6 L584.6999999999999,129.6 Z" fill="#f23a2a"/>
<path d="M590.9,131.4 L589.6,129.6 L590.4499999999999,129.6 L590.4499999999999,127.69999999999999 L591.35,127.69999999999999 L591.35,129.6 L592.1999999999999,129.6 Z" fill="#f23a2a"/>
<path d="M579.9,139.0 L578.6,140.8 L579.4499999999999,140.8 L579.4499999999999,142.7 L580.35,142.7 L580.35,140.8 L581.1999999999999,140.8 Z" fill="#f23a2a"/>
<path d="M587.8,139.0 L586.5,140.8 L587.3499999999999,140.8 L587.3499999999999,142.7 L588.25,142.7 L588.25,140.8 L589.0999999999999,140.8 Z" fill="#f23a2a"/>
<line x1="604.4" y1="116.6" x2="620.7" y2="116.6" stroke="#45b3ef" stroke-width="1.2"/>
<text x="622.8" y="119" font-size="7.0" text-anchor="start" fill="#333" font-weight="normal" stroke="#333" stroke-width="0.22" style="">Sim.</text>
<circle cx="647.7" cy="116.6" r="2.0" fill="none" stroke="#45b3ef" stroke-width="0.9"/>
<text x="658.2" y="119" font-size="7.0" text-anchor="start" fill="#333" font-weight="normal" stroke="#333" stroke-width="0.22" style="">Exp.</text>
<line x1="604.4" y1="134.5" x2="620.7" y2="134.5" stroke="#df383a" stroke-width="1.2"/>
<text x="622.8" y="136.9" font-size="7.0" text-anchor="start" fill="#333" font-weight="normal" stroke="#333" stroke-width="0.22" style="">Sim.</text>
<circle cx="647.7" cy="134.5" r="2.0" fill="none" stroke="#df383a" stroke-width="0.9"/>
<text x="658.2" y="136.9" font-size="7.0" text-anchor="start" fill="#333" font-weight="normal" stroke="#333" stroke-width="0.22" style="">Exp.</text>
<text x="0.95" y="188.9" font-size="16" text-anchor="start" fill="#000" font-weight="bold" style="">D</text>
<path d="M37.9,325.3 L39.5,297.9 L40.2,288.2 L41.6,278.5 L43.0,266.1 L44.0,260.0 L45.1,250.0 L45.8,232.2 L47.0,226.3 L48.0,217.5 L48.8,201.2 L49.5,198.3 L50.3,199.5 L51.0,197.5 L52.0,197.0 L53.2,195.6 L54.0,197.8 L54.7,197.5 L55.4,199.0 L56.1,196.8 L57.6,201.2 L58.5,201.8 L59.8,203.5 L61.3,207.1 L62.4,207.8 L63.5,210.1 L65.7,212.3 L67.2,214.5 L68.7,218.2 L69.4,224.1 L70.5,224.8 L71.6,227.8 L73.1,227.1 L73.6,233.7 L73.9,251.0 L74.2,233.0 L74.6,232.2 L76.8,236.7 L78.3,241.1 L79.0,247.0 L80.5,245.5 L82.7,248.5 L84.2,252.9 L84.9,256.0 L85.9,263.3 L86.6,268.8 L87.3,279.9 L88.0,288.2 L89.4,282.7 L90.1,271.6 L91.4,266.1 L94.9,270.2 L100.4,279.9 L101.5,288.2 L102.1,302.1 L102.8,309.0 L103.9,303.4 L105.3,293.8 L106.0,288.9 L107.4,288.2 L111.5,288.9 L114.5,291.2 L116.0,293.4 L117.4,297.9 L118.9,309.8 L120.1,325.3 L125.6,325.3 L127.1,318.7 L128.6,312.8 L130.8,306.8 L133.8,304.1 L139.8,306.5 L145.7,309.0 L150.2,312.0 L153.2,315.0 L154.7,318.7 L156.2,325.3 L168.1,325.3 L169.6,320.2 L171.0,319.5 L171.8,324.5 L173.3,319.0 L174.8,318.4 L175.5,320.5 L180.0,319.0 L187.4,319.9 L196.4,322.0 L205.3,323.9 L209.5,325.3 Z" fill="#fa8b58" stroke="none"/>
<line x1="74.0" y1="232" x2="74.0" y2="271" stroke="#fff" stroke-width="0.7" opacity="0.85"/>
<line x1="83.2" y1="252" x2="83.2" y2="325" stroke="#fff" stroke-width="0.5" opacity="0.5"/>
<polyline points="34.2,195.3 38.4,194.2 48.8,193.4 79.8,193.4 81.2,196.1 82.4,199.8 83.4,197.5 85.7,196.1 93,193.1 100.4,192.1 114,191.6 122,192 126,191.5 132,191.4 136,192.4 140,192 150,191.6 160,191.5 164,193 167,191.3 176,191.8 180,193.2 183,191.5 184.5,192.8 186,191.4 188,192 190,191.2 191.5,193.8 193,191.5 194.5,194.2 195.5,191.5 197,194.5 198.3,191.6 199.5,194 201,191.6 202.5,193.5 203.5,191.4 205,192.5 206,191.2 207,193 208,191.4 208.8,195 209.5,192 210.2,199.5" fill="none" stroke="#111" stroke-width="1.1" stroke-linejoin="round" stroke-linecap="round"/>
<line x1="34.2" y1="183.3" x2="210.9" y2="183.3" stroke="#111" stroke-width="1.3"/>
<line x1="34.2" y1="182.65" x2="34.2" y2="325.3" stroke="#111" stroke-width="1.3"/>
<line x1="33.550000000000004" y1="325.3" x2="210.9" y2="325.3" stroke="#111" stroke-width="1.3"/>
<line x1="210.9" y1="182.70000000000002" x2="210.9" y2="325.90000000000003" stroke="#f4845a" stroke-width="1.2"/>
<line x1="53.8" y1="325.3" x2="53.8" y2="322.7" stroke="#111" stroke-width="1.0"/>
<line x1="93" y1="325.3" x2="93" y2="322.7" stroke="#111" stroke-width="1.0"/>
<line x1="132.2" y1="325.3" x2="132.2" y2="322.7" stroke="#111" stroke-width="1.0"/>
<line x1="171.4" y1="325.3" x2="171.4" y2="322.7" stroke="#111" stroke-width="1.0"/>
<line x1="210.6" y1="325.3" x2="210.6" y2="322.7" stroke="#111" stroke-width="1.0"/>
<line x1="73.4" y1="325.3" x2="73.4" y2="323.8" stroke="#111" stroke-width="1.0"/>
<line x1="112.6" y1="325.3" x2="112.6" y2="323.8" stroke="#111" stroke-width="1.0"/>
<line x1="151.8" y1="325.3" x2="151.8" y2="323.8" stroke="#111" stroke-width="1.0"/>
<line x1="191" y1="325.3" x2="191" y2="323.8" stroke="#111" stroke-width="1.0"/>
<text x="53.8" y="336.5" font-size="9.8" text-anchor="middle" fill="#1a1a1a" font-weight="normal" stroke="#1a1a1a" stroke-width="0.22" style="">0.5</text>
<text x="93" y="336.5" font-size="9.8" text-anchor="middle" fill="#1a1a1a" font-weight="normal" stroke="#1a1a1a" stroke-width="0.22" style="">1.0</text>
<text x="132.2" y="336.5" font-size="9.8" text-anchor="middle" fill="#1a1a1a" font-weight="normal" stroke="#1a1a1a" stroke-width="0.22" style="">1.5</text>
<text x="171.4" y="336.5" font-size="9.8" text-anchor="middle" fill="#1a1a1a" font-weight="normal" stroke="#1a1a1a" stroke-width="0.22" style="">2.0</text>
<text x="210.6" y="336.5" font-size="9.8" text-anchor="middle" fill="#1a1a1a" font-weight="normal" stroke="#1a1a1a" stroke-width="0.22" style="">2.5</text>
<line x1="34.2" y1="325.3" x2="36.8" y2="325.3" stroke="#111" stroke-width="1.0"/>
<line x1="34.2" y1="298.26" x2="36.8" y2="298.26" stroke="#111" stroke-width="1.0"/>
<line x1="34.2" y1="271.22" x2="36.8" y2="271.22" stroke="#111" stroke-width="1.0"/>
<line x1="34.2" y1="244.18" x2="36.8" y2="244.18" stroke="#111" stroke-width="1.0"/>
<line x1="34.2" y1="217.14" x2="36.8" y2="217.14" stroke="#111" stroke-width="1.0"/>
<line x1="34.2" y1="190.1" x2="36.8" y2="190.1" stroke="#111" stroke-width="1.0"/>
<line x1="34.2" y1="311.78" x2="35.7" y2="311.78" stroke="#111" stroke-width="1.0"/>
<line x1="34.2" y1="284.74" x2="35.7" y2="284.74" stroke="#111" stroke-width="1.0"/>
<line x1="34.2" y1="257.7" x2="35.7" y2="257.7" stroke="#111" stroke-width="1.0"/>
<line x1="34.2" y1="230.66" x2="35.7" y2="230.66" stroke="#111" stroke-width="1.0"/>
<line x1="34.2" y1="203.62" x2="35.7" y2="203.62" stroke="#111" stroke-width="1.0"/>
<text x="30.6" y="328.53" font-size="9.8" text-anchor="end" fill="#1a1a1a" font-weight="normal" stroke="#1a1a1a" stroke-width="0.22" style="">0</text>
<text x="30.6" y="301.49" font-size="9.8" text-anchor="end" fill="#1a1a1a" font-weight="normal" stroke="#1a1a1a" stroke-width="0.22" style="">20</text>
<text x="30.6" y="274.45" font-size="9.8" text-anchor="end" fill="#1a1a1a" font-weight="normal" stroke="#1a1a1a" stroke-width="0.22" style="">40</text>
<text x="30.6" y="247.41" font-size="9.8" text-anchor="end" fill="#1a1a1a" font-weight="normal" stroke="#1a1a1a" stroke-width="0.22" style="">60</text>
<text x="30.6" y="220.37" font-size="9.8" text-anchor="end" fill="#1a1a1a" font-weight="normal" stroke="#1a1a1a" stroke-width="0.22" style="">80</text>
<text x="30.6" y="193.33" font-size="9.8" text-anchor="end" fill="#1a1a1a" font-weight="normal" stroke="#1a1a1a" stroke-width="0.22" style="">100</text>
<line x1="210.9" y1="325.3" x2="208.3" y2="325.3" stroke="#f4845a" stroke-width="1.0"/>
<line x1="210.9" y1="301.63" x2="208.3" y2="301.63" stroke="#f4845a" stroke-width="1.0"/>
<line x1="210.9" y1="277.97" x2="208.3" y2="277.97" stroke="#f4845a" stroke-width="1.0"/>
<line x1="210.9" y1="254.3" x2="208.3" y2="254.3" stroke="#f4845a" stroke-width="1.0"/>
<line x1="210.9" y1="230.63" x2="208.3" y2="230.63" stroke="#f4845a" stroke-width="1.0"/>
<line x1="210.9" y1="206.97" x2="208.3" y2="206.97" stroke="#f4845a" stroke-width="1.0"/>
<line x1="210.9" y1="183.3" x2="208.3" y2="183.3" stroke="#f4845a" stroke-width="1.0"/>
<line x1="210.9" y1="313.47" x2="209.4" y2="313.47" stroke="#f4845a" stroke-width="1.0"/>
<line x1="210.9" y1="289.8" x2="209.4" y2="289.8" stroke="#f4845a" stroke-width="1.0"/>
<line x1="210.9" y1="266.13" x2="209.4" y2="266.13" stroke="#f4845a" stroke-width="1.0"/>
<line x1="210.9" y1="242.47" x2="209.4" y2="242.47" stroke="#f4845a" stroke-width="1.0"/>
<line x1="210.9" y1="218.8" x2="209.4" y2="218.8" stroke="#f4845a" stroke-width="1.0"/>
<line x1="210.9" y1="195.13" x2="209.4" y2="195.13" stroke="#f4845a" stroke-width="1.0"/>
<text x="212.7" y="328.4" font-size="9.4" text-anchor="start" fill="#f5916a" font-weight="normal" stroke="#f5916a" stroke-width="0.08" style="">0</text>
<text x="212.7" y="304.74" font-size="9.4" text-anchor="start" fill="#f5916a" font-weight="normal" stroke="#f5916a" stroke-width="0.08" style="">0.3</text>
<text x="212.7" y="281.07" font-size="9.4" text-anchor="start" fill="#f5916a" font-weight="normal" stroke="#f5916a" stroke-width="0.08" style="">0.6</text>
<text x="212.7" y="257.4" font-size="9.4" text-anchor="start" fill="#f5916a" font-weight="normal" stroke="#f5916a" stroke-width="0.08" style="">0.9</text>
<text x="212.7" y="233.74" font-size="9.4" text-anchor="start" fill="#f5916a" font-weight="normal" stroke="#f5916a" stroke-width="0.08" style="">1.2</text>
<text x="212.7" y="210.07" font-size="9.4" text-anchor="start" fill="#f5916a" font-weight="normal" stroke="#f5916a" stroke-width="0.08" style="">1.5</text>
<text x="212.7" y="186.4" font-size="9.4" text-anchor="start" fill="#f5916a" font-weight="normal" stroke="#f5916a" stroke-width="0.08" style="">1.8</text>
<text x="44.5" y="315" font-size="9.9" text-anchor="start" fill="#1a1a1a" font-weight="normal" stroke="#1a1a1a" stroke-width="0.22" style="">AM1.5 solar spectrum</text>
<text x="122.3" y="348.1" font-size="10.75" text-anchor="middle" fill="#1a1a1a" font-weight="normal" stroke="#1a1a1a" stroke-width="0.22" style="">Wavelength (&#181;m)</text>
<text x="12.7" y="253.8" font-size="10.8" text-anchor="middle" fill="#1a1a1a" font-weight="normal" stroke="#1a1a1a" stroke-width="0.22" transform="rotate(-90 12.7 253.8)" style="">Absorbance (%)</text>
<text x="229.2" y="179.6" font-size="10.8" fill="#f5916a" stroke="#f5916a" stroke-width="0.08" transform="rotate(90 229.2 179.6)">Spectral Irradiance (W/(m<tspan font-size="6.70" dy="-4.54">2</tspan><tspan dy="4.54">&#183;nm))</tspan></text>
<text x="243.2" y="189.3" font-size="16" text-anchor="start" fill="#000" font-weight="bold" style="">E</text>
<polyline points="283.4,191.8 293.91,204.56 304.43,218.6 314.94,233.91 325.45,246.67 335.97,257.51 346.48,267.72 356.99,276.02 367.51,283.03 378.02,288.78 388.53,293.24 399.05,297.71 409.56,300.9 420.07,303.45 430.59,304.73 441.1,305.36" fill="none" stroke="#42b0ea" stroke-width="1.2" stroke-linejoin="round" stroke-linecap="round"/>
<circle cx="283.4" cy="191.8" r="1.8" fill="#42b0ea" stroke="#42b0ea" stroke-width="0"/>
<circle cx="293.91" cy="204.56" r="1.8" fill="#42b0ea" stroke="#42b0ea" stroke-width="0"/>
<circle cx="304.43" cy="218.6" r="1.8" fill="#42b0ea" stroke="#42b0ea" stroke-width="0"/>
<circle cx="314.94" cy="233.91" r="1.8" fill="#42b0ea" stroke="#42b0ea" stroke-width="0"/>
<circle cx="325.45" cy="246.67" r="1.8" fill="#42b0ea" stroke="#42b0ea" stroke-width="0"/>
<circle cx="335.97" cy="257.51" r="1.8" fill="#42b0ea" stroke="#42b0ea" stroke-width="0"/>
<circle cx="346.48" cy="267.72" r="1.8" fill="#42b0ea" stroke="#42b0ea" stroke-width="0"/>
<circle cx="356.99" cy="276.02" r="1.8" fill="#42b0ea" stroke="#42b0ea" stroke-width="0"/>
<circle cx="367.51" cy="283.03" r="1.8" fill="#42b0ea" stroke="#42b0ea" stroke-width="0"/>
<circle cx="378.02" cy="288.78" r="1.8" fill="#42b0ea" stroke="#42b0ea" stroke-width="0"/>
<circle cx="388.53" cy="293.24" r="1.8" fill="#42b0ea" stroke="#42b0ea" stroke-width="0"/>
<circle cx="399.05" cy="297.71" r="1.8" fill="#42b0ea" stroke="#42b0ea" stroke-width="0"/>
<circle cx="409.56" cy="300.9" r="1.8" fill="#42b0ea" stroke="#42b0ea" stroke-width="0"/>
<circle cx="420.07" cy="303.45" r="1.8" fill="#42b0ea" stroke="#42b0ea" stroke-width="0"/>
<circle cx="430.59" cy="304.73" r="1.8" fill="#42b0ea" stroke="#42b0ea" stroke-width="0"/>
<circle cx="441.1" cy="305.36" r="1.8" fill="#42b0ea" stroke="#42b0ea" stroke-width="0"/>
<polyline points="283.4,191.8 293.91,216.68 304.43,244.75 314.94,267.08 325.45,284.95 335.97,300.9 346.48,308.55 356.99,313.02 367.51,314.3 378.02,314.93 388.53,314.93" fill="none" stroke="#f6b915" stroke-width="1.2" stroke-linejoin="round" stroke-linecap="round"/>
<circle cx="283.4" cy="191.8" r="1.8" fill="#f6b915" stroke="#f6b915" stroke-width="0"/>
<circle cx="293.91" cy="216.68" r="1.8" fill="#f6b915" stroke="#f6b915" stroke-width="0"/>
<circle cx="304.43" cy="244.75" r="1.8" fill="#f6b915" stroke="#f6b915" stroke-width="0"/>
<circle cx="314.94" cy="267.08" r="1.8" fill="#f6b915" stroke="#f6b915" stroke-width="0"/>
<circle cx="325.45" cy="284.95" r="1.8" fill="#f6b915" stroke="#f6b915" stroke-width="0"/>
<circle cx="335.97" cy="300.9" r="1.8" fill="#f6b915" stroke="#f6b915" stroke-width="0"/>
<circle cx="346.48" cy="308.55" r="1.8" fill="#f6b915" stroke="#f6b915" stroke-width="0"/>
<circle cx="356.99" cy="313.02" r="1.8" fill="#f6b915" stroke="#f6b915" stroke-width="0"/>
<circle cx="367.51" cy="314.3" r="1.8" fill="#f6b915" stroke="#f6b915" stroke-width="0"/>
<circle cx="378.02" cy="314.93" r="1.8" fill="#f6b915" stroke="#f6b915" stroke-width="0"/>
<circle cx="388.53" cy="314.93" r="1.8" fill="#f6b915" stroke="#f6b915" stroke-width="0"/>
<polyline points="283.4,191.8 288.66,208.39 293.91,230.72 299.17,251.13 304.43,268.36 309.68,284.95 314.94,297.07 320.2,307.28 325.45,313.66 330.71,317.49 335.97,319.4 341.22,320.04 346.48,320.68" fill="none" stroke="#f58a5f" stroke-width="1.2" stroke-linejoin="round" stroke-linecap="round"/>
<circle cx="283.4" cy="191.8" r="1.8" fill="#f58a5f" stroke="#f58a5f" stroke-width="0"/>
<circle cx="288.66" cy="208.39" r="1.8" fill="#f58a5f" stroke="#f58a5f" stroke-width="0"/>
<circle cx="293.91" cy="230.72" r="1.8" fill="#f58a5f" stroke="#f58a5f" stroke-width="0"/>
<circle cx="299.17" cy="251.13" r="1.8" fill="#f58a5f" stroke="#f58a5f" stroke-width="0"/>
<circle cx="304.43" cy="268.36" r="1.8" fill="#f58a5f" stroke="#f58a5f" stroke-width="0"/>
<circle cx="309.68" cy="284.95" r="1.8" fill="#f58a5f" stroke="#f58a5f" stroke-width="0"/>
<circle cx="314.94" cy="297.07" r="1.8" fill="#f58a5f" stroke="#f58a5f" stroke-width="0"/>
<circle cx="320.2" cy="307.28" r="1.8" fill="#f58a5f" stroke="#f58a5f" stroke-width="0"/>
<circle cx="325.45" cy="313.66" r="1.8" fill="#f58a5f" stroke="#f58a5f" stroke-width="0"/>
<circle cx="330.71" cy="317.49" r="1.8" fill="#f58a5f" stroke="#f58a5f" stroke-width="0"/>
<circle cx="335.97" cy="319.4" r="1.8" fill="#f58a5f" stroke="#f58a5f" stroke-width="0"/>
<circle cx="341.22" cy="320.04" r="1.8" fill="#f58a5f" stroke="#f58a5f" stroke-width="0"/>
<circle cx="346.48" cy="320.68" r="1.8" fill="#f58a5f" stroke="#f58a5f" stroke-width="0"/>
<polyline points="283.4,191.8 288.66,216.04 293.91,240.29 299.17,263.26 304.43,283.03 309.68,297.07 314.94,306.64 320.2,312.38 325.45,316.21 330.71,319.4 335.97,320.68" fill="none" stroke="#d42a2a" stroke-width="1.2" stroke-linejoin="round" stroke-linecap="round"/>
<circle cx="283.4" cy="191.8" r="1.8" fill="#d42a2a" stroke="#d42a2a" stroke-width="0"/>
<circle cx="288.66" cy="216.04" r="1.8" fill="#d42a2a" stroke="#d42a2a" stroke-width="0"/>
<circle cx="293.91" cy="240.29" r="1.8" fill="#d42a2a" stroke="#d42a2a" stroke-width="0"/>
<circle cx="299.17" cy="263.26" r="1.8" fill="#d42a2a" stroke="#d42a2a" stroke-width="0"/>
<circle cx="304.43" cy="283.03" r="1.8" fill="#d42a2a" stroke="#d42a2a" stroke-width="0"/>
<circle cx="309.68" cy="297.07" r="1.8" fill="#d42a2a" stroke="#d42a2a" stroke-width="0"/>
<circle cx="314.94" cy="306.64" r="1.8" fill="#d42a2a" stroke="#d42a2a" stroke-width="0"/>
<circle cx="320.2" cy="312.38" r="1.8" fill="#d42a2a" stroke="#d42a2a" stroke-width="0"/>
<circle cx="325.45" cy="316.21" r="1.8" fill="#d42a2a" stroke="#d42a2a" stroke-width="0"/>
<circle cx="330.71" cy="319.4" r="1.8" fill="#d42a2a" stroke="#d42a2a" stroke-width="0"/>
<circle cx="335.97" cy="320.68" r="1.8" fill="#d42a2a" stroke="#d42a2a" stroke-width="0"/>
<rect x="277" y="183.7" width="177.9" height="143.4" fill="none" stroke="#111" stroke-width="1.3"/>
<line x1="283.4" y1="327.1" x2="283.4" y2="324.5" stroke="#111" stroke-width="1.0"/>
<line x1="309.68" y1="327.1" x2="309.68" y2="324.5" stroke="#111" stroke-width="1.0"/>
<line x1="335.97" y1="327.1" x2="335.97" y2="324.5" stroke="#111" stroke-width="1.0"/>
<line x1="362.25" y1="327.1" x2="362.25" y2="324.5" stroke="#111" stroke-width="1.0"/>
<line x1="388.53" y1="327.1" x2="388.53" y2="324.5" stroke="#111" stroke-width="1.0"/>
<line x1="414.82" y1="327.1" x2="414.82" y2="324.5" stroke="#111" stroke-width="1.0"/>
<line x1="441.1" y1="327.1" x2="441.1" y2="324.5" stroke="#111" stroke-width="1.0"/>
<line x1="296.54" y1="327.1" x2="296.54" y2="325.6" stroke="#111" stroke-width="1.0"/>
<line x1="322.82" y1="327.1" x2="322.82" y2="325.6" stroke="#111" stroke-width="1.0"/>
<line x1="349.11" y1="327.1" x2="349.11" y2="325.6" stroke="#111" stroke-width="1.0"/>
<line x1="375.39" y1="327.1" x2="375.39" y2="325.6" stroke="#111" stroke-width="1.0"/>
<line x1="401.68" y1="327.1" x2="401.68" y2="325.6" stroke="#111" stroke-width="1.0"/>
<line x1="427.96" y1="327.1" x2="427.96" y2="325.6" stroke="#111" stroke-width="1.0"/>
<text x="283.4" y="338.3" font-size="9.8" text-anchor="middle" fill="#1a1a1a" font-weight="normal" stroke="#1a1a1a" stroke-width="0.22" style="">0</text>
<text x="309.68" y="338.3" font-size="9.8" text-anchor="middle" fill="#1a1a1a" font-weight="normal" stroke="#1a1a1a" stroke-width="0.22" style="">5</text>
<text x="335.97" y="338.3" font-size="9.8" text-anchor="middle" fill="#1a1a1a" font-weight="normal" stroke="#1a1a1a" stroke-width="0.22" style="">10</text>
<text x="362.25" y="338.3" font-size="9.8" text-anchor="middle" fill="#1a1a1a" font-weight="normal" stroke="#1a1a1a" stroke-width="0.22" style="">15</text>
<text x="388.53" y="338.3" font-size="9.8" text-anchor="middle" fill="#1a1a1a" font-weight="normal" stroke="#1a1a1a" stroke-width="0.22" style="">20</text>
<text x="414.82" y="338.3" font-size="9.8" text-anchor="middle" fill="#1a1a1a" font-weight="normal" stroke="#1a1a1a" stroke-width="0.22" style="">25</text>
<text x="441.1" y="338.3" font-size="9.8" text-anchor="middle" fill="#1a1a1a" font-weight="normal" stroke="#1a1a1a" stroke-width="0.22" style="">30</text>
<line x1="277" y1="191.8" x2="279.6" y2="191.8" stroke="#111" stroke-width="1.0"/>
<line x1="277" y1="223.7" x2="279.6" y2="223.7" stroke="#111" stroke-width="1.0"/>
<line x1="277" y1="255.6" x2="279.6" y2="255.6" stroke="#111" stroke-width="1.0"/>
<line x1="277" y1="287.5" x2="279.6" y2="287.5" stroke="#111" stroke-width="1.0"/>
<line x1="277" y1="319.4" x2="279.6" y2="319.4" stroke="#111" stroke-width="1.0"/>
<line x1="277" y1="207.75" x2="278.5" y2="207.75" stroke="#111" stroke-width="1.0"/>
<line x1="277" y1="239.65" x2="278.5" y2="239.65" stroke="#111" stroke-width="1.0"/>
<line x1="277" y1="271.55" x2="278.5" y2="271.55" stroke="#111" stroke-width="1.0"/>
<line x1="277" y1="303.45" x2="278.5" y2="303.45" stroke="#111" stroke-width="1.0"/>
<text x="273.4" y="195.03" font-size="9.8" text-anchor="end" fill="#1a1a1a" font-weight="normal" stroke="#1a1a1a" stroke-width="0.22" style="">0</text>
<text x="273.4" y="226.93" font-size="9.8" text-anchor="end" fill="#1a1a1a" font-weight="normal" stroke="#1a1a1a" stroke-width="0.22" style="">-0.5</text>
<text x="273.4" y="258.83" font-size="9.8" text-anchor="end" fill="#1a1a1a" font-weight="normal" stroke="#1a1a1a" stroke-width="0.22" style="">-1.0</text>
<text x="273.4" y="290.73" font-size="9.8" text-anchor="end" fill="#1a1a1a" font-weight="normal" stroke="#1a1a1a" stroke-width="0.22" style="">-1.5</text>
<text x="273.4" y="322.63" font-size="9.8" text-anchor="end" fill="#1a1a1a" font-weight="normal" stroke="#1a1a1a" stroke-width="0.22" style="">-2.0</text>
<text x="366.1" y="348.6" font-size="10.67" text-anchor="middle" fill="#1a1a1a" font-weight="normal" stroke="#1a1a1a" stroke-width="0.22" style="">Time (minute)</text>
<text x="252" y="255.4" font-size="10.9" text-anchor="middle" fill="#1a1a1a" stroke="#1a1a1a" stroke-width="0.22" transform="rotate(-90 252 255.4)">Mass change (g g<tspan font-size="6.76" dy="-4.58">-1</tspan><tspan dy="4.58">)</tspan></text>
<line x1="405" y1="191.00" x2="424.4" y2="191.00" stroke="#42b0ea" stroke-width="1.2"/>
<circle cx="414.7" cy="191" r="1.5" fill="#42b0ea" stroke="#42b0ea" stroke-width="0"/>
<text x="427.2" y="194.6" font-size="10.1" text-anchor="start" fill="#1a1a1a" font-weight="normal" stroke="#1a1a1a" stroke-width="0.22" style="">1 sun</text>
<line x1="405" y1="203.47" x2="424.4" y2="203.47" stroke="#f6b915" stroke-width="1.2"/>
<circle cx="414.7" cy="203.47" r="1.5" fill="#f6b915" stroke="#f6b915" stroke-width="0"/>
<text x="427.2" y="207.07" font-size="10.1" text-anchor="start" fill="#1a1a1a" font-weight="normal" stroke="#1a1a1a" stroke-width="0.22" style="">2 sun</text>
<line x1="405" y1="215.94" x2="424.4" y2="215.94" stroke="#f58a5f" stroke-width="1.2"/>
<circle cx="414.7" cy="215.94" r="1.5" fill="#f58a5f" stroke="#f58a5f" stroke-width="0"/>
<text x="427.2" y="219.54" font-size="10.1" text-anchor="start" fill="#1a1a1a" font-weight="normal" stroke="#1a1a1a" stroke-width="0.22" style="">3 sun</text>
<line x1="405" y1="228.41" x2="424.4" y2="228.41" stroke="#d42a2a" stroke-width="1.2"/>
<circle cx="414.7" cy="228.41" r="1.5" fill="#d42a2a" stroke="#d42a2a" stroke-width="0"/>
<text x="427.2" y="232.01" font-size="10.1" text-anchor="start" fill="#1a1a1a" font-weight="normal" stroke="#1a1a1a" stroke-width="0.22" style="">4 sun</text>
<text x="462.8" y="190.7" font-size="16" text-anchor="start" fill="#000" font-weight="bold" style="">F</text>
<rect x="498.3" y="183.1" width="179.1" height="113.8" fill="#cdebfc"/>
<rect x="498.3" y="296.9" width="179.1" height="13.7" fill="#f8f5da"/>
<rect x="498.3" y="310.6" width="179.1" height="16.5" fill="#fadfe2"/>
<text x="594.8" y="292.7" font-size="8.7" text-anchor="start" fill="#222" font-weight="normal" stroke="#222" stroke-width="0.22" style="">Solution evaporation</text>
<text x="505.6" y="306.6" font-size="8.7" text-anchor="start" fill="#222" font-weight="normal" stroke="#222" stroke-width="0.22" style="">Crystallization</text>
<text x="505.6" y="321.2" font-size="8.7" text-anchor="start" fill="#222" font-weight="normal" stroke="#222" stroke-width="0.22" style="">Chemical desorption</text>
<polyline points="520.65,241.33 531.8,269.86 554.1,287.84 576.4,298 598.7,312.46 621,314.03 643.3,318.33 665.6,319.11" fill="none" stroke="#e03c3c" stroke-width="1.2" stroke-linejoin="round" stroke-linecap="round"/>
<circle cx="520.65" cy="241.33" r="1.7" fill="none" stroke="#e03c3c" stroke-width="0.9"/>
<circle cx="531.8" cy="269.86" r="1.7" fill="none" stroke="#e03c3c" stroke-width="0.9"/>
<circle cx="554.1" cy="287.84" r="1.7" fill="none" stroke="#e03c3c" stroke-width="0.9"/>
<circle cx="576.4" cy="298" r="1.7" fill="none" stroke="#e03c3c" stroke-width="0.9"/>
<circle cx="598.7" cy="312.46" r="1.7" fill="none" stroke="#e03c3c" stroke-width="0.9"/>
<circle cx="621" cy="314.03" r="1.7" fill="none" stroke="#e03c3c" stroke-width="0.9"/>
<circle cx="643.3" cy="318.33" r="1.7" fill="none" stroke="#e03c3c" stroke-width="0.9"/>
<circle cx="665.6" cy="319.11" r="1.7" fill="none" stroke="#e03c3c" stroke-width="0.9"/>
<polyline points="531.8,195.6 554.1,269.86 576.4,285.89 598.7,296.44 621,310.12 643.3,312.46 665.6,319.11" fill="none" stroke="#3f70b8" stroke-width="1.2" stroke-linejoin="round" stroke-linecap="round"/>
<circle cx="531.8" cy="195.6" r="1.7" fill="none" stroke="#3f70b8" stroke-width="0.9"/>
<circle cx="554.1" cy="269.86" r="1.7" fill="none" stroke="#3f70b8" stroke-width="0.9"/>
<circle cx="576.4" cy="285.89" r="1.7" fill="none" stroke="#3f70b8" stroke-width="0.9"/>
<circle cx="598.7" cy="296.44" r="1.7" fill="none" stroke="#3f70b8" stroke-width="0.9"/>
<circle cx="621" cy="310.12" r="1.7" fill="none" stroke="#3f70b8" stroke-width="0.9"/>
<circle cx="643.3" cy="312.46" r="1.7" fill="none" stroke="#3f70b8" stroke-width="0.9"/>
<circle cx="665.6" cy="319.11" r="1.7" fill="none" stroke="#3f70b8" stroke-width="0.9"/>
<rect x="498.3" y="183.1" width="179.1" height="144" fill="none" stroke="#111" stroke-width="1.3"/>
<line x1="509.5" y1="327.1" x2="509.5" y2="324.5" stroke="#111" stroke-width="1.0"/>
<line x1="531.8" y1="327.1" x2="531.8" y2="324.5" stroke="#111" stroke-width="1.0"/>
<line x1="554.1" y1="327.1" x2="554.1" y2="324.5" stroke="#111" stroke-width="1.0"/>
<line x1="576.4" y1="327.1" x2="576.4" y2="324.5" stroke="#111" stroke-width="1.0"/>
<line x1="598.7" y1="327.1" x2="598.7" y2="324.5" stroke="#111" stroke-width="1.0"/>
<line x1="621" y1="327.1" x2="621" y2="324.5" stroke="#111" stroke-width="1.0"/>
<line x1="643.3" y1="327.1" x2="643.3" y2="324.5" stroke="#111" stroke-width="1.0"/>
<line x1="665.6" y1="327.1" x2="665.6" y2="324.5" stroke="#111" stroke-width="1.0"/>
<line x1="498.35" y1="327.1" x2="498.35" y2="325.6" stroke="#111" stroke-width="1.0"/>
<line x1="520.65" y1="327.1" x2="520.65" y2="325.6" stroke="#111" stroke-width="1.0"/>
<line x1="542.95" y1="327.1" x2="542.95" y2="325.6" stroke="#111" stroke-width="1.0"/>
<line x1="565.25" y1="327.1" x2="565.25" y2="325.6" stroke="#111" stroke-width="1.0"/>
<line x1="587.55" y1="327.1" x2="587.55" y2="325.6" stroke="#111" stroke-width="1.0"/>
<line x1="609.85" y1="327.1" x2="609.85" y2="325.6" stroke="#111" stroke-width="1.0"/>
<line x1="632.15" y1="327.1" x2="632.15" y2="325.6" stroke="#111" stroke-width="1.0"/>
<line x1="654.45" y1="327.1" x2="654.45" y2="325.6" stroke="#111" stroke-width="1.0"/>
<line x1="676.75" y1="327.1" x2="676.75" y2="325.6" stroke="#111" stroke-width="1.0"/>
<text x="509.5" y="338.3" font-size="9.8" text-anchor="middle" fill="#1a1a1a" font-weight="normal" stroke="#1a1a1a" stroke-width="0.22" style="">20</text>
<text x="531.8" y="338.3" font-size="9.8" text-anchor="middle" fill="#1a1a1a" font-weight="normal" stroke="#1a1a1a" stroke-width="0.22" style="">30</text>
<text x="554.1" y="338.3" font-size="9.8" text-anchor="middle" fill="#1a1a1a" font-weight="normal" stroke="#1a1a1a" stroke-width="0.22" style="">40</text>
<text x="576.4" y="338.3" font-size="9.8" text-anchor="middle" fill="#1a1a1a" font-weight="normal" stroke="#1a1a1a" stroke-width="0.22" style="">50</text>
<text x="598.7" y="338.3" font-size="9.8" text-anchor="middle" fill="#1a1a1a" font-weight="normal" stroke="#1a1a1a" stroke-width="0.22" style="">60</text>
<text x="621" y="338.3" font-size="9.8" text-anchor="middle" fill="#1a1a1a" font-weight="normal" stroke="#1a1a1a" stroke-width="0.22" style="">70</text>
<text x="643.3" y="338.3" font-size="9.8" text-anchor="middle" fill="#1a1a1a" font-weight="normal" stroke="#1a1a1a" stroke-width="0.22" style="">80</text>
<text x="665.6" y="338.3" font-size="9.8" text-anchor="middle" fill="#1a1a1a" font-weight="normal" stroke="#1a1a1a" stroke-width="0.22" style="">90</text>
<line x1="498.3" y1="319.5" x2="500.9" y2="319.5" stroke="#111" stroke-width="1.0"/>
<line x1="498.3" y1="299.96" x2="500.9" y2="299.96" stroke="#111" stroke-width="1.0"/>
<line x1="498.3" y1="280.41" x2="500.9" y2="280.41" stroke="#111" stroke-width="1.0"/>
<line x1="498.3" y1="260.87" x2="500.9" y2="260.87" stroke="#111" stroke-width="1.0"/>
<line x1="498.3" y1="241.33" x2="500.9" y2="241.33" stroke="#111" stroke-width="1.0"/>
<line x1="498.3" y1="221.79" x2="500.9" y2="221.79" stroke="#111" stroke-width="1.0"/>
<line x1="498.3" y1="202.24" x2="500.9" y2="202.24" stroke="#111" stroke-width="1.0"/>
<line x1="498.3" y1="182.7" x2="500.9" y2="182.7" stroke="#111" stroke-width="1.0"/>
<line x1="498.3" y1="309.73" x2="499.8" y2="309.73" stroke="#111" stroke-width="1.0"/>
<line x1="498.3" y1="290.19" x2="499.8" y2="290.19" stroke="#111" stroke-width="1.0"/>
<line x1="498.3" y1="270.64" x2="499.8" y2="270.64" stroke="#111" stroke-width="1.0"/>
<line x1="498.3" y1="251.1" x2="499.8" y2="251.1" stroke="#111" stroke-width="1.0"/>
<line x1="498.3" y1="231.56" x2="499.8" y2="231.56" stroke="#111" stroke-width="1.0"/>
<line x1="498.3" y1="212.01" x2="499.8" y2="212.01" stroke="#111" stroke-width="1.0"/>
<line x1="498.3" y1="192.47" x2="499.8" y2="192.47" stroke="#111" stroke-width="1.0"/>
<text x="494.7" y="322.73" font-size="9.8" text-anchor="end" fill="#1a1a1a" font-weight="normal" stroke="#1a1a1a" stroke-width="0.22" style="">0</text>
<text x="494.7" y="303.19" font-size="9.8" text-anchor="end" fill="#1a1a1a" font-weight="normal" stroke="#1a1a1a" stroke-width="0.22" style="">0.5</text>
<text x="494.7" y="283.65" font-size="9.8" text-anchor="end" fill="#1a1a1a" font-weight="normal" stroke="#1a1a1a" stroke-width="0.22" style="">1.0</text>
<text x="494.7" y="264.11" font-size="9.8" text-anchor="end" fill="#1a1a1a" font-weight="normal" stroke="#1a1a1a" stroke-width="0.22" style="">1.5</text>
<text x="494.7" y="244.56" font-size="9.8" text-anchor="end" fill="#1a1a1a" font-weight="normal" stroke="#1a1a1a" stroke-width="0.22" style="">2.0</text>
<text x="494.7" y="225.02" font-size="9.8" text-anchor="end" fill="#1a1a1a" font-weight="normal" stroke="#1a1a1a" stroke-width="0.22" style="">2.5</text>
<text x="494.7" y="205.48" font-size="9.8" text-anchor="end" fill="#1a1a1a" font-weight="normal" stroke="#1a1a1a" stroke-width="0.22" style="">3.0</text>
<text x="494.7" y="185.93" font-size="9.8" text-anchor="end" fill="#1a1a1a" font-weight="normal" stroke="#1a1a1a" stroke-width="0.22" style="">3.5</text>
<text x="588" y="348.6" font-size="10.77" text-anchor="middle" fill="#1a1a1a" font-weight="normal" stroke="#1a1a1a" stroke-width="0.22" style="">Temperature (&#176;C)</text>
<text x="476.7" y="254" font-size="11.1" text-anchor="middle" fill="#1a1a1a" stroke="#1a1a1a" stroke-width="0.22" transform="rotate(-90 476.7 254)">Water uptake (g g<tspan font-size="6.88" dy="-4.66">-1</tspan><tspan dy="4.66">)</tspan></text>
<line x1="616.1" y1="191.40" x2="635.4" y2="191.40" stroke="#e03c3c" stroke-width="1.2"/>
<circle cx="625.7" cy="191.4" r="1.4" fill="none" stroke="#e03c3c" stroke-width="0.8"/>
<text x="638.5" y="194.5" font-size="8.6" text-anchor="start" fill="#222" font-weight="normal" stroke="#222" stroke-width="0.22" style="">1.90 kPa</text>
<line x1="616.1" y1="202.20" x2="635.4" y2="202.20" stroke="#3f70b8" stroke-width="1.2"/>
<circle cx="625.7" cy="202.2" r="1.4" fill="none" stroke="#3f70b8" stroke-width="0.8"/>
<text x="638.5" y="205.3" font-size="8.6" text-anchor="start" fill="#222" font-weight="normal" stroke="#222" stroke-width="0.22" style="">3.17 kPa</text>
<text x="-1" y="378.8" font-size="16" text-anchor="start" fill="#000" font-weight="bold" style="">G</text>
<polyline points="41.34,384.68 44.56,497.18 46.9,386.4 50.12,498.33 52.46,385.25 55.68,498.04 58.02,384.68 61.24,497.47 63.58,384.1 66.8,498.62 69.14,384.68 72.36,498.9 74.7,384.68 77.92,498.9 80.26,385.25 83.48,498.62 85.82,386.4 89.04,498.33 91.38,385.25 94.6,498.33 96.94,386.4 100.16,498.9 102.5,384.1 105.72,498.9 108.06,385.83 111.28,498.33 113.62,384.39 116.84,497.76 119.18,385.25 122.4,498.62 124.74,386.4 127.96,498.9 130.3,384.68 133.52,498.62 135.86,385.83 139.08,498.33 141.42,386.4 144.64,498.9 146.98,384.68 150.2,498.62 152.54,385.25 155.76,498.9 158.1,384.68 161.32,498.33 163.66,386.4 166.88,498.9 169.22,385.25 172.44,497.76 174.78,384.39 178,498.62 180.34,386.4 183.56,498.33 185.9,385.83 189.12,498.9 191.46,384.68 194.68,498.62 197.02,386.4 200.24,498.33 202.58,385.25 205.8,498.62" fill="none" stroke="#6fc2f2" stroke-width="0.9" stroke-linejoin="round" stroke-linecap="round"/>
<circle cx="41.34" cy="384.68" r="1.7" fill="#fff" stroke="#55b5ee" stroke-width="0.8"/>
<circle cx="46.9" cy="386.4" r="1.7" fill="#fff" stroke="#55b5ee" stroke-width="0.8"/>
<circle cx="52.46" cy="385.25" r="1.7" fill="#fff" stroke="#55b5ee" stroke-width="0.8"/>
<circle cx="58.02" cy="384.68" r="1.7" fill="#fff" stroke="#55b5ee" stroke-width="0.8"/>
<circle cx="63.58" cy="384.1" r="1.7" fill="#fff" stroke="#55b5ee" stroke-width="0.8"/>
<circle cx="69.14" cy="384.68" r="1.7" fill="#fff" stroke="#55b5ee" stroke-width="0.8"/>
<circle cx="74.7" cy="384.68" r="1.7" fill="#fff" stroke="#55b5ee" stroke-width="0.8"/>
<circle cx="80.26" cy="385.25" r="1.7" fill="#fff" stroke="#55b5ee" stroke-width="0.8"/>
<circle cx="85.82" cy="386.4" r="1.7" fill="#fff" stroke="#55b5ee" stroke-width="0.8"/>
<circle cx="91.38" cy="385.25" r="1.7" fill="#fff" stroke="#55b5ee" stroke-width="0.8"/>
<circle cx="96.94" cy="386.4" r="1.7" fill="#fff" stroke="#55b5ee" stroke-width="0.8"/>
<circle cx="102.5" cy="384.1" r="1.7" fill="#fff" stroke="#55b5ee" stroke-width="0.8"/>
<circle cx="108.06" cy="385.83" r="1.7" fill="#fff" stroke="#55b5ee" stroke-width="0.8"/>
<circle cx="113.62" cy="384.39" r="1.7" fill="#fff" stroke="#55b5ee" stroke-width="0.8"/>
<circle cx="119.18" cy="385.25" r="1.7" fill="#fff" stroke="#55b5ee" stroke-width="0.8"/>
<circle cx="124.74" cy="386.4" r="1.7" fill="#fff" stroke="#55b5ee" stroke-width="0.8"/>
<circle cx="130.3" cy="384.68" r="1.7" fill="#fff" stroke="#55b5ee" stroke-width="0.8"/>
<circle cx="135.86" cy="385.83" r="1.7" fill="#fff" stroke="#55b5ee" stroke-width="0.8"/>
<circle cx="141.42" cy="386.4" r="1.7" fill="#fff" stroke="#55b5ee" stroke-width="0.8"/>
<circle cx="146.98" cy="384.68" r="1.7" fill="#fff" stroke="#55b5ee" stroke-width="0.8"/>
<circle cx="152.54" cy="385.25" r="1.7" fill="#fff" stroke="#55b5ee" stroke-width="0.8"/>
<circle cx="158.1" cy="384.68" r="1.7" fill="#fff" stroke="#55b5ee" stroke-width="0.8"/>
<circle cx="163.66" cy="386.4" r="1.7" fill="#fff" stroke="#55b5ee" stroke-width="0.8"/>
<circle cx="169.22" cy="385.25" r="1.7" fill="#fff" stroke="#55b5ee" stroke-width="0.8"/>
<circle cx="174.78" cy="384.39" r="1.7" fill="#fff" stroke="#55b5ee" stroke-width="0.8"/>
<circle cx="180.34" cy="386.4" r="1.7" fill="#fff" stroke="#55b5ee" stroke-width="0.8"/>
<circle cx="185.9" cy="385.83" r="1.7" fill="#fff" stroke="#55b5ee" stroke-width="0.8"/>
<circle cx="191.46" cy="384.68" r="1.7" fill="#fff" stroke="#55b5ee" stroke-width="0.8"/>
<circle cx="197.02" cy="386.4" r="1.7" fill="#fff" stroke="#55b5ee" stroke-width="0.8"/>
<circle cx="202.58" cy="385.25" r="1.7" fill="#fff" stroke="#55b5ee" stroke-width="0.8"/>
<circle cx="44.56" cy="497.18" r="1.7" fill="#fff" stroke="#55b5ee" stroke-width="0.8"/>
<circle cx="50.12" cy="498.33" r="1.7" fill="#fff" stroke="#55b5ee" stroke-width="0.8"/>
<circle cx="55.68" cy="498.04" r="1.7" fill="#fff" stroke="#55b5ee" stroke-width="0.8"/>
<circle cx="61.24" cy="497.47" r="1.7" fill="#fff" stroke="#55b5ee" stroke-width="0.8"/>
<circle cx="66.8" cy="498.62" r="1.7" fill="#fff" stroke="#55b5ee" stroke-width="0.8"/>
<circle cx="72.36" cy="498.9" r="1.7" fill="#fff" stroke="#55b5ee" stroke-width="0.8"/>
<circle cx="77.92" cy="498.9" r="1.7" fill="#fff" stroke="#55b5ee" stroke-width="0.8"/>
<circle cx="83.48" cy="498.62" r="1.7" fill="#fff" stroke="#55b5ee" stroke-width="0.8"/>
<circle cx="89.04" cy="498.33" r="1.7" fill="#fff" stroke="#55b5ee" stroke-width="0.8"/>
<circle cx="94.6" cy="498.33" r="1.7" fill="#fff" stroke="#55b5ee" stroke-width="0.8"/>
<circle cx="100.16" cy="498.9" r="1.7" fill="#fff" stroke="#55b5ee" stroke-width="0.8"/>
<circle cx="105.72" cy="498.9" r="1.7" fill="#fff" stroke="#55b5ee" stroke-width="0.8"/>
<circle cx="111.28" cy="498.33" r="1.7" fill="#fff" stroke="#55b5ee" stroke-width="0.8"/>
<circle cx="116.84" cy="497.76" r="1.7" fill="#fff" stroke="#55b5ee" stroke-width="0.8"/>
<circle cx="122.4" cy="498.62" r="1.7" fill="#fff" stroke="#55b5ee" stroke-width="0.8"/>
<circle cx="127.96" cy="498.9" r="1.7" fill="#fff" stroke="#55b5ee" stroke-width="0.8"/>
<circle cx="133.52" cy="498.62" r="1.7" fill="#fff" stroke="#55b5ee" stroke-width="0.8"/>
<circle cx="139.08" cy="498.33" r="1.7" fill="#fff" stroke="#55b5ee" stroke-width="0.8"/>
<circle cx="144.64" cy="498.9" r="1.7" fill="#fff" stroke="#55b5ee" stroke-width="0.8"/>
<circle cx="150.2" cy="498.62" r="1.7" fill="#fff" stroke="#55b5ee" stroke-width="0.8"/>
<circle cx="155.76" cy="498.9" r="1.7" fill="#fff" stroke="#55b5ee" stroke-width="0.8"/>
<circle cx="161.32" cy="498.33" r="1.7" fill="#fff" stroke="#55b5ee" stroke-width="0.8"/>
<circle cx="166.88" cy="498.9" r="1.7" fill="#fff" stroke="#55b5ee" stroke-width="0.8"/>
<circle cx="172.44" cy="497.76" r="1.7" fill="#fff" stroke="#55b5ee" stroke-width="0.8"/>
<circle cx="178" cy="498.62" r="1.7" fill="#fff" stroke="#55b5ee" stroke-width="0.8"/>
<circle cx="183.56" cy="498.33" r="1.7" fill="#fff" stroke="#55b5ee" stroke-width="0.8"/>
<circle cx="189.12" cy="498.9" r="1.7" fill="#fff" stroke="#55b5ee" stroke-width="0.8"/>
<circle cx="194.68" cy="498.62" r="1.7" fill="#fff" stroke="#55b5ee" stroke-width="0.8"/>
<circle cx="200.24" cy="498.33" r="1.7" fill="#fff" stroke="#55b5ee" stroke-width="0.8"/>
<circle cx="205.8" cy="498.62" r="1.7" fill="#fff" stroke="#55b5ee" stroke-width="0.8"/>
<rect x="33.2" y="372.2" width="178.8" height="143.9" fill="none" stroke="#111" stroke-width="1.3"/>
<line x1="39" y1="516.1" x2="39" y2="513.5" stroke="#111" stroke-width="1.0"/>
<line x1="66.8" y1="516.1" x2="66.8" y2="513.5" stroke="#111" stroke-width="1.0"/>
<line x1="94.6" y1="516.1" x2="94.6" y2="513.5" stroke="#111" stroke-width="1.0"/>
<line x1="122.4" y1="516.1" x2="122.4" y2="513.5" stroke="#111" stroke-width="1.0"/>
<line x1="150.2" y1="516.1" x2="150.2" y2="513.5" stroke="#111" stroke-width="1.0"/>
<line x1="178" y1="516.1" x2="178" y2="513.5" stroke="#111" stroke-width="1.0"/>
<line x1="205.8" y1="516.1" x2="205.8" y2="513.5" stroke="#111" stroke-width="1.0"/>
<line x1="52.9" y1="516.1" x2="52.9" y2="514.6" stroke="#111" stroke-width="1.0"/>
<line x1="80.7" y1="516.1" x2="80.7" y2="514.6" stroke="#111" stroke-width="1.0"/>
<line x1="108.5" y1="516.1" x2="108.5" y2="514.6" stroke="#111" stroke-width="1.0"/>
<line x1="136.3" y1="516.1" x2="136.3" y2="514.6" stroke="#111" stroke-width="1.0"/>
<line x1="164.1" y1="516.1" x2="164.1" y2="514.6" stroke="#111" stroke-width="1.0"/>
<line x1="191.9" y1="516.1" x2="191.9" y2="514.6" stroke="#111" stroke-width="1.0"/>
<text x="39" y="527.3" font-size="9.2" text-anchor="middle" fill="#1a1a1a" font-weight="normal" stroke="#1a1a1a" stroke-width="0.22" style="">0</text>
<text x="66.8" y="527.3" font-size="9.2" text-anchor="middle" fill="#1a1a1a" font-weight="normal" stroke="#1a1a1a" stroke-width="0.22" style="">5</text>
<text x="94.6" y="527.3" font-size="9.2" text-anchor="middle" fill="#1a1a1a" font-weight="normal" stroke="#1a1a1a" stroke-width="0.22" style="">10</text>
<text x="122.4" y="527.3" font-size="9.2" text-anchor="middle" fill="#1a1a1a" font-weight="normal" stroke="#1a1a1a" stroke-width="0.22" style="">15</text>
<text x="150.2" y="527.3" font-size="9.2" text-anchor="middle" fill="#1a1a1a" font-weight="normal" stroke="#1a1a1a" stroke-width="0.22" style="">20</text>
<text x="178" y="527.3" font-size="9.2" text-anchor="middle" fill="#1a1a1a" font-weight="normal" stroke="#1a1a1a" stroke-width="0.22" style="">25</text>
<text x="205.8" y="527.3" font-size="9.2" text-anchor="middle" fill="#1a1a1a" font-weight="normal" stroke="#1a1a1a" stroke-width="0.22" style="">30</text>
<line x1="33.2" y1="501.2" x2="35.8" y2="501.2" stroke="#111" stroke-width="1.0"/>
<line x1="33.2" y1="472.5" x2="35.8" y2="472.5" stroke="#111" stroke-width="1.0"/>
<line x1="33.2" y1="443.8" x2="35.8" y2="443.8" stroke="#111" stroke-width="1.0"/>
<line x1="33.2" y1="415.1" x2="35.8" y2="415.1" stroke="#111" stroke-width="1.0"/>
<line x1="33.2" y1="386.4" x2="35.8" y2="386.4" stroke="#111" stroke-width="1.0"/>
<line x1="33.2" y1="486.85" x2="34.7" y2="486.85" stroke="#111" stroke-width="1.0"/>
<line x1="33.2" y1="458.15" x2="34.7" y2="458.15" stroke="#111" stroke-width="1.0"/>
<line x1="33.2" y1="429.45" x2="34.7" y2="429.45" stroke="#111" stroke-width="1.0"/>
<line x1="33.2" y1="400.75" x2="34.7" y2="400.75" stroke="#111" stroke-width="1.0"/>
<text x="29.6" y="504.43" font-size="9.8" text-anchor="end" fill="#1a1a1a" font-weight="normal" stroke="#1a1a1a" stroke-width="0.22" style="">0</text>
<text x="29.6" y="475.73" font-size="9.8" text-anchor="end" fill="#1a1a1a" font-weight="normal" stroke="#1a1a1a" stroke-width="0.22" style="">0.5</text>
<text x="29.6" y="447.03" font-size="9.8" text-anchor="end" fill="#1a1a1a" font-weight="normal" stroke="#1a1a1a" stroke-width="0.22" style="">1.0</text>
<text x="29.6" y="418.33" font-size="9.8" text-anchor="end" fill="#1a1a1a" font-weight="normal" stroke="#1a1a1a" stroke-width="0.22" style="">1.5</text>
<text x="29.6" y="389.63" font-size="9.8" text-anchor="end" fill="#1a1a1a" font-weight="normal" stroke="#1a1a1a" stroke-width="0.22" style="">2.0</text>
<text x="122.2" y="538.9" font-size="10.6" text-anchor="middle" fill="#1a1a1a" font-weight="normal" stroke="#1a1a1a" stroke-width="0.22" style="">Cycle number</text>
<text x="10.6" y="444.6" font-size="11.1" text-anchor="middle" fill="#1a1a1a" stroke="#1a1a1a" stroke-width="0.22" transform="rotate(-90 10.6 444.6)">Water uptake (g g<tspan font-size="6.88" dy="-4.66">-1</tspan><tspan dy="4.66">)</tspan></text>
<text x="38.7" y="381.6" font-size="8.1" text-anchor="start" fill="#222" font-weight="normal" stroke="#222" stroke-width="0.22" style="">Sorption at 25 &#176;C, 60% RH</text>
<text x="38.9" y="508.6" font-size="8.1" text-anchor="start" fill="#222" font-weight="normal" stroke="#222" stroke-width="0.22" style="">Desorption at 90 &#176;C</text>
<text x="241.3" y="379.8" font-size="16" text-anchor="start" fill="#000" font-weight="bold" style="">H</text>
<polyline points="277,515.6 279.52,515.07 283.02,514.34 287.16,513.48 291.6,512.55 295.99,511.64 300,510.82 303.65,510.08 307.22,509.35 310.75,508.64 314.27,507.93 317.81,507.23 321.4,506.52 325.05,505.8 328.74,505.07 332.45,504.34 336.17,503.61 339.89,502.91 343.6,502.22 347.16,501.56 350.56,500.94 353.95,500.33 357.51,499.72 361.41,499.08 365.8,498.39 370.88,497.63 376.54,496.82 382.53,495.97 388.61,495.13 394.51,494.34 399.99,493.61 405.03,492.97 409.82,492.39 414.45,491.85 418.96,491.33 423.45,490.81 427.96,490.27 432.79,489.67 437.93,489.03 443.03,488.38 447.74,487.79 451.72,487.28 454.6,486.92" fill="none" stroke="#a8333a" stroke-width="1.3" stroke-linejoin="round" stroke-linecap="round"/>
<polyline points="277,515.6 279.52,515.37 283.02,515.09 287.16,514.73 291.6,514.31 295.99,513.8 300,513.21 303.65,512.51 307.22,511.69 310.75,510.79 314.27,509.85 317.81,508.89 321.4,507.95 325.05,507.01 328.74,506.04 332.45,505.05 336.17,504.07 339.89,503.12 343.6,502.22 347.16,501.39 350.56,500.64 353.95,499.92 357.51,499.17 361.41,498.36 365.8,497.44 370.88,496.35 376.54,495.12 382.53,493.82 388.61,492.53 394.51,491.32 399.99,490.27 405.03,489.37 409.82,488.57 414.45,487.85 418.96,487.19 423.45,486.56 427.96,485.96 432.79,485.37 437.93,484.8 443.03,484.26 447.74,483.79 451.72,483.39 454.6,483.1" fill="none" stroke="#3b4d7e" stroke-width="1.3" stroke-linejoin="round" stroke-linecap="round"/>
<polyline points="277,515.6 279.52,514.91 283.02,513.97 287.16,512.85 291.6,511.6 295.99,510.27 300,508.91 303.65,507.49 307.22,505.95 310.75,504.34 314.27,502.68 317.81,501 321.4,499.35 325.05,497.68 328.74,495.97 332.45,494.24 336.17,492.53 339.89,490.88 343.6,489.31 347.36,487.8 351.2,486.3 355.04,484.86 358.8,483.5 362.41,482.27 365.8,481.18 368.9,480.31 371.77,479.63 374.49,479.06 377.14,478.55 379.81,478 382.58,477.36 385.33,476.62 387.95,475.84 390.59,475.03 393.38,474.21 396.47,473.39 399.99,472.58 404.05,471.76 408.58,470.9 413.4,470.04 418.34,469.22 423.25,468.46 427.96,467.8 432.79,467.24 437.93,466.74 443.03,466.31 447.74,465.94 451.72,465.64 454.6,465.41" fill="none" stroke="#3b67b4" stroke-width="1.2" stroke-linejoin="round" stroke-linecap="round"/>
<polyline points="277,515.6 277.48,513 278.1,509.32 278.85,504.99 279.72,500.48 280.71,496.22 281.8,492.66 283.03,489.76 284.43,487.19 285.94,484.86 287.51,482.72 289.07,480.72 290.59,478.79 292.03,476.98 293.45,475.34 294.87,473.83 296.31,472.42 297.8,471.06 299.38,469.71 301.04,468.38 302.78,467.09 304.56,465.86 306.38,464.68 308.21,463.58 310.03,462.54 311.86,461.59 313.7,460.72 315.56,459.91 317.42,459.16 319.28,458.45 321.13,457.76 322.91,457.1 324.59,456.49 326.27,455.91 328.04,455.37 330,454.87 332.23,454.42 334.71,454.01 337.35,453.67 340.18,453.37 343.22,453.09 346.48,452.81 349.99,452.5 353.76,452.17 357.75,451.81 361.98,451.46 366.43,451.12 371.11,450.83 376.01,450.59 381.12,450.42 386.42,450.29 391.96,450.2 397.74,450.15 403.82,450.12 410.2,450.11 417.52,450.14 425.89,450.22 434.54,450.32 442.71,450.43 449.65,450.53 454.6,450.59" fill="none" stroke="#fcc76a" stroke-width="1.2" stroke-linejoin="round" stroke-linecap="round"/>
<polyline points="277,515.6 278.96,513.69 281.7,511.01 284.93,507.86 288.37,504.52 291.74,501.27 294.76,498.39 297.5,495.84 300.19,493.36 302.81,490.98 305.34,488.71 307.76,486.55 310.03,484.53 312.13,482.64 314.04,480.87 315.84,479.21 317.59,477.68 319.33,476.26 321.13,474.97 322.91,473.85 324.59,472.92 326.27,472.1 328.04,471.34 330,470.57 332.23,469.71 334.84,468.76 337.76,467.76 340.86,466.75 344.02,465.76 347.11,464.83 349.99,463.98 352.64,463.22 355.13,462.52 357.56,461.88 359.98,461.29 362.47,460.71 365.09,460.15 367.87,459.61 370.75,459.09 373.69,458.6 376.67,458.13 379.64,457.7 382.58,457.28 385.37,456.91 388,456.58 390.63,456.27 393.41,455.97 396.48,455.68 399.99,455.37 404.05,455.05 408.58,454.73 413.4,454.42 418.34,454.1 423.25,453.78 427.96,453.46 432.79,453.12 437.93,452.75 443.03,452.38 447.74,452.04 451.72,451.76 454.6,451.55" fill="none" stroke="#5ebdf5" stroke-width="1.2" stroke-linejoin="round" stroke-linecap="round"/>
<polyline points="277,515.6 278.96,513.7 281.7,511.05 284.93,507.92 288.37,504.59 291.74,501.32 294.76,498.39 297.5,495.73 300.19,493.12 302.81,490.56 305.34,488.11 307.76,485.77 310.03,483.57 312.13,481.53 314.04,479.61 315.84,477.81 317.59,476.12 319.33,474.54 321.13,473.06 322.91,471.73 324.59,470.58 326.27,469.53 328.04,468.53 330,467.49 332.23,466.37 334.86,465.12 337.81,463.82 340.96,462.48 344.14,461.16 347.2,459.89 349.99,458.72 352.44,457.65 354.63,456.66 356.71,455.73 358.8,454.82 361.05,453.92 363.58,452.98 366.45,452.01 369.57,451.03 372.84,450.05 376.17,449.09 379.45,448.15 382.58,447.25 385.45,446.39 388.11,445.58 390.73,444.8 393.46,444.02 396.49,443.25 399.99,442.47 404.05,441.66 408.58,440.84 413.4,440.02 418.34,439.21 423.25,438.43 427.96,437.69 432.79,436.95 437.93,436.2 443.03,435.48 447.74,434.82 451.72,434.27 454.6,433.86" fill="none" stroke="#79acd6" stroke-width="1.1" stroke-linejoin="round" stroke-linecap="round"/>
<polyline points="277,515.6 277.18,514.04 277.41,511.88 277.7,509.33 278.04,506.57 278.42,503.82 278.86,501.26 279.37,498.84 279.95,496.39 280.58,493.94 281.24,491.52 281.92,489.17 282.59,486.92 283.28,484.75 284,482.62 284.73,480.56 285.46,478.58 286.17,476.71 286.86,474.97 287.47,473.38 288.01,471.94 288.54,470.61 289.11,469.34 289.78,468.1 290.59,466.84 291.51,465.6 292.51,464.4 293.6,463.23 294.81,462.06 296.16,460.89 297.69,459.67 299.46,458.39 301.46,457.05 303.61,455.7 305.82,454.38 307.99,453.14 310.03,452.03 311.96,451.04 313.83,450.15 315.66,449.34 317.48,448.59 319.3,447.9 321.13,447.25 322.91,446.65 324.59,446.13 326.27,445.66 328.04,445.23 330,444.81 332.23,444.38 334.71,443.94 337.35,443.51 340.18,443.09 343.22,442.7 346.48,442.33 349.99,441.99 353.76,441.68 357.75,441.4 361.98,441.15 366.43,440.93 371.11,440.73 376.01,440.55 381.12,440.41 386.42,440.29 391.96,440.2 397.74,440.13 403.82,440.09 410.2,440.08 417.52,440.11 425.89,440.18 434.54,440.29 442.71,440.39 449.65,440.49 454.6,440.55" fill="none" stroke="#f7935e" stroke-width="1.3" stroke-linejoin="round" stroke-linecap="round"/>
<polyline points="277,515.6 285.52,471.15 294.23,449.64" fill="none" stroke="#d53a3a" stroke-width="1.4" stroke-linejoin="round" stroke-linecap="round"/>
<polyline points="294.23,449.64 295.56,448.57 297.39,447.07 299.57,445.3 301.95,443.44 304.39,441.64 306.75,440.08 309.13,438.69 311.69,437.33 314.3,436.04 316.86,434.85 319.27,433.8 321.4,432.91 323.13,432.24 324.53,431.79 325.77,431.47 327.03,431.21 328.47,430.91 330.28,430.52 332.46,430 334.86,429.44 337.46,428.84 340.2,428.25 343.06,427.68 346,427.17 349.03,426.71 352.21,426.28 355.49,425.89 358.87,425.51 362.31,425.14 365.8,424.78 369.36,424.43 373.02,424.09 376.75,423.76 380.51,423.45 384.27,423.15 388,422.87 391.7,422.6 395.4,422.34 399.1,422.09 402.8,421.86 406.5,421.64 410.2,421.43 413.9,421.25 417.6,421.08 421.3,420.93 425,420.78 428.7,420.63 432.4,420.48 436.36,420.31 440.62,420.12 444.89,419.94 448.84,419.77 452.18,419.63 454.6,419.52" fill="none" stroke="#d53a3a" stroke-width="1.4" stroke-linejoin="round" stroke-linecap="round"/>
<rect x="276.8" y="372.2" width="178.4" height="143.2" fill="none" stroke="#111" stroke-width="1.3"/>
<line x1="277" y1="515.4" x2="277" y2="512.8" stroke="#111" stroke-width="1.0"/>
<line x1="321.4" y1="515.4" x2="321.4" y2="512.8" stroke="#111" stroke-width="1.0"/>
<line x1="365.8" y1="515.4" x2="365.8" y2="512.8" stroke="#111" stroke-width="1.0"/>
<line x1="410.2" y1="515.4" x2="410.2" y2="512.8" stroke="#111" stroke-width="1.0"/>
<line x1="454.6" y1="515.4" x2="454.6" y2="512.8" stroke="#111" stroke-width="1.0"/>
<line x1="299.2" y1="515.4" x2="299.2" y2="513.9" stroke="#111" stroke-width="1.0"/>
<line x1="343.6" y1="515.4" x2="343.6" y2="513.9" stroke="#111" stroke-width="1.0"/>
<line x1="388" y1="515.4" x2="388" y2="513.9" stroke="#111" stroke-width="1.0"/>
<line x1="432.4" y1="515.4" x2="432.4" y2="513.9" stroke="#111" stroke-width="1.0"/>
<text x="277" y="526.6" font-size="9.8" text-anchor="middle" fill="#1a1a1a" font-weight="normal" stroke="#1a1a1a" stroke-width="0.22" style="">0</text>
<text x="321.4" y="526.6" font-size="9.8" text-anchor="middle" fill="#1a1a1a" font-weight="normal" stroke="#1a1a1a" stroke-width="0.22" style="">50</text>
<text x="365.8" y="526.6" font-size="9.8" text-anchor="middle" fill="#1a1a1a" font-weight="normal" stroke="#1a1a1a" stroke-width="0.22" style="">100</text>
<text x="410.2" y="526.6" font-size="9.8" text-anchor="middle" fill="#1a1a1a" font-weight="normal" stroke="#1a1a1a" stroke-width="0.22" style="">150</text>
<text x="454.6" y="526.6" font-size="9.8" text-anchor="middle" fill="#1a1a1a" font-weight="normal" stroke="#1a1a1a" stroke-width="0.22" style="">200</text>
<line x1="276.8" y1="515.6" x2="279.4" y2="515.6" stroke="#111" stroke-width="1.0"/>
<line x1="276.8" y1="491.7" x2="279.4" y2="491.7" stroke="#111" stroke-width="1.0"/>
<line x1="276.8" y1="467.8" x2="279.4" y2="467.8" stroke="#111" stroke-width="1.0"/>
<line x1="276.8" y1="443.9" x2="279.4" y2="443.9" stroke="#111" stroke-width="1.0"/>
<line x1="276.8" y1="420" x2="279.4" y2="420" stroke="#111" stroke-width="1.0"/>
<line x1="276.8" y1="396.1" x2="279.4" y2="396.1" stroke="#111" stroke-width="1.0"/>
<line x1="276.8" y1="372.2" x2="279.4" y2="372.2" stroke="#111" stroke-width="1.0"/>
<line x1="276.8" y1="503.65" x2="278.3" y2="503.65" stroke="#111" stroke-width="1.0"/>
<line x1="276.8" y1="479.75" x2="278.3" y2="479.75" stroke="#111" stroke-width="1.0"/>
<line x1="276.8" y1="455.85" x2="278.3" y2="455.85" stroke="#111" stroke-width="1.0"/>
<line x1="276.8" y1="431.95" x2="278.3" y2="431.95" stroke="#111" stroke-width="1.0"/>
<line x1="276.8" y1="408.05" x2="278.3" y2="408.05" stroke="#111" stroke-width="1.0"/>
<line x1="276.8" y1="384.15" x2="278.3" y2="384.15" stroke="#111" stroke-width="1.0"/>
<text x="273.2" y="518.83" font-size="9.8" text-anchor="end" fill="#1a1a1a" font-weight="normal" stroke="#1a1a1a" stroke-width="0.22" style="">0</text>
<text x="273.2" y="494.93" font-size="9.8" text-anchor="end" fill="#1a1a1a" font-weight="normal" stroke="#1a1a1a" stroke-width="0.22" style="">0.5</text>
<text x="273.2" y="471.03" font-size="9.8" text-anchor="end" fill="#1a1a1a" font-weight="normal" stroke="#1a1a1a" stroke-width="0.22" style="">1.0</text>
<text x="273.2" y="447.13" font-size="9.8" text-anchor="end" fill="#1a1a1a" font-weight="normal" stroke="#1a1a1a" stroke-width="0.22" style="">1.5</text>
<text x="273.2" y="423.23" font-size="9.8" text-anchor="end" fill="#1a1a1a" font-weight="normal" stroke="#1a1a1a" stroke-width="0.22" style="">2.0</text>
<text x="273.2" y="399.33" font-size="9.8" text-anchor="end" fill="#1a1a1a" font-weight="normal" stroke="#1a1a1a" stroke-width="0.22" style="">2.5</text>
<text x="273.2" y="375.43" font-size="9.8" text-anchor="end" fill="#1a1a1a" font-weight="normal" stroke="#1a1a1a" stroke-width="0.22" style="">3.0</text>
<text x="366.1" y="537.1" font-size="10.67" text-anchor="middle" fill="#1a1a1a" font-weight="normal" stroke="#1a1a1a" stroke-width="0.22" style="">Time (minute)</text>
<text x="253.9" y="443.1" font-size="11.1" text-anchor="middle" fill="#1a1a1a" stroke="#1a1a1a" stroke-width="0.22" transform="rotate(-90 253.9 443.1)">Water uptake (g g<tspan font-size="6.88" dy="-4.66">-1</tspan><tspan dy="4.66">)</tspan></text>
<line x1="279.7" y1="379.2" x2="295.4" y2="379.2" stroke="#b5474a" stroke-width="1.7"/>
<text x="297.7" y="381.7" font-size="7.1" text-anchor="start" fill="#222" font-weight="normal" stroke="#222" stroke-width="0.22" style="">PDMAPS/CNT/LiCl</text>
<line x1="279.7" y1="389.4" x2="295.4" y2="389.4" stroke="#3a66b5" stroke-width="1.4"/>
<text x="297.7" y="391.9" font-size="7.1" text-anchor="start" fill="#222" font-weight="normal" stroke="#222" stroke-width="0.22" style="">HCS-LiCl</text>
<line x1="279.7" y1="398.2" x2="295.4" y2="398.2" stroke="#8ec5ee" stroke-width="1.2"/>
<text x="297.7" y="400.7" font-size="7.1" text-anchor="start" fill="#222" font-weight="normal" stroke="#222" stroke-width="0.22" style="">PAMPS-CNT-LiCl</text>
<line x1="279.7" y1="407.2" x2="295.4" y2="407.2" stroke="#f7935e" stroke-width="1.4"/>
<text x="297.7" y="409.7" font-size="7.1" text-anchor="start" fill="#222" font-weight="normal" stroke="#222" stroke-width="0.22" style="">SHPFs</text>
<line x1="361.3" y1="379.2" x2="376.9" y2="379.2" stroke="#4c6493" stroke-width="1.7"/>
<text x="379.4" y="381.7" font-size="7.1" text-anchor="start" fill="#222" font-weight="normal" stroke="#222" stroke-width="0.22" style="">PAM&#8722;CNT&#8722;CaCl<tspan font-size="4.6" dy="1.8">2</tspan></text>
<line x1="361.3" y1="389.4" x2="376.9" y2="389.4" stroke="#6cc0f2" stroke-width="1.2"/>
<text x="379.4" y="391.9" font-size="7.1" text-anchor="start" fill="#222" font-weight="normal" stroke="#222" stroke-width="0.22" style="">LiCl@HGAFs</text>
<line x1="361.3" y1="398.2" x2="376.9" y2="398.2" stroke="#fcc870" stroke-width="1.2"/>
<text x="379.4" y="400.7" font-size="7.1" text-anchor="start" fill="#222" font-weight="normal" stroke="#222" stroke-width="0.22" style="">PPy-COF@Trilayer-LiCl</text>
<line x1="361.3" y1="407.2" x2="376.9" y2="407.2" stroke="#d8393b" stroke-width="1.4"/>
<text x="379.4" y="409.7" font-size="7.1" text-anchor="start" fill="#222" font-weight="normal" stroke="#222" stroke-width="0.22" style="">HIPG <tspan fill="#f42a2a" stroke="#f42a2a">(This work)</tspan></text>
<text x="463" y="380.8" font-size="16" text-anchor="start" fill="#000" font-weight="bold" style="">I</text>
<defs><clipPath id="clipI"><rect x="498.3" y="372.2" width="178.9" height="144"/></clipPath></defs>
<g clip-path="url(#clipI)">
<polyline points="498.5,516.13 499.39,516.13 500.29,516.13 501.18,516.12 502.07,516.12 502.96,516.12 503.86,516.12 504.75,516.11 505.64,516.11 506.53,516.11 507.43,516.1 508.32,516.1 509.21,516.1 510.1,516.09 511,516.09 511.89,516.09 512.78,516.08 513.67,516.08 514.57,516.07 515.46,516.07 516.35,516.06 517.24,516.06 518.13,516.05 519.03,516.05 519.92,516.05 520.81,516.04 521.71,516.03 522.6,516.03 523.49,516.02 524.38,516.02 525.27,516.01 526.17,516.01 527.06,516 527.95,515.99 528.85,515.99 529.74,515.98 530.63,515.97 531.52,515.96 532.41,515.96 533.31,515.95 534.2,515.94 535.09,515.93 535.99,515.93 536.88,515.92 537.77,515.91 538.66,515.9 539.55,515.89 540.45,515.88 541.34,515.87 542.23,515.86 543.12,515.85 544.02,515.84 544.91,515.83 545.8,515.82 546.7,515.81 547.59,515.79 548.48,515.78 549.37,515.77 550.26,515.76 551.16,515.74 552.05,515.73 552.94,515.72 553.84,515.7 554.73,515.69 555.62,515.67 556.51,515.66 557.4,515.64 558.3,515.63 559.19,515.61 560.08,515.6 560.98,515.58 561.87,515.56 562.76,515.54 563.65,515.52 564.54,515.51 565.44,515.49 566.33,515.47 567.22,515.45 568.12,515.43 569.01,515.41 569.9,515.38 570.79,515.36 571.68,515.34 572.58,515.32 573.47,515.29 574.36,515.27 575.25,515.24 576.15,515.22 577.04,515.19 577.93,515.17 578.83,515.14 579.72,515.11 580.61,515.08 581.5,515.06 582.39,515.03 583.29,515 584.18,514.97 585.07,514.93 585.97,514.9 586.86,514.87 587.75,514.84 588.64,514.8 589.53,514.77 590.43,514.73 591.32,514.69 592.21,514.66 593.11,514.62 594,514.58 594.89,514.54 595.78,514.5 596.67,514.46 597.57,514.42 598.46,514.37 599.35,514.33 600.25,514.28 601.14,514.24 602.03,514.19 602.92,514.14 603.82,514.09 604.71,514.04 605.6,513.99 606.49,513.94 607.38,513.89 608.28,513.83 609.17,513.78 610.06,513.72 610.96,513.67 611.85,513.61 612.74,513.55 613.63,513.49 614.52,513.43 615.42,513.36 616.31,513.3 617.2,513.23 618.1,513.17 618.99,513.1 619.88,513.03 620.77,512.96 621.66,512.89 622.56,512.81 623.45,512.74 624.34,512.66 625.24,512.59 626.13,512.51 627.02,512.43 627.91,512.35 628.81,512.26 629.7,512.18 630.59,512.09 631.48,512 632.38,511.91 633.27,511.82 634.16,511.73 635.05,511.63 635.94,511.54 636.84,511.44 637.73,511.34 638.62,511.24 639.51,511.14 640.41,511.03 641.3,510.92 642.19,510.82 643.09,510.7 643.98,510.59 644.87,510.48 645.76,510.36 646.65,510.24 647.55,510.12 648.44,510 649.33,509.87 650.23,509.75 651.12,509.62 652.01,509.49 652.9,509.35 653.79,509.22 654.69,509.08 655.58,508.94 656.47,508.8 657.37,508.65 658.26,508.5 659.15,508.35 660.04,508.2 660.93,508.05 661.83,507.89 662.72,507.73 663.61,507.57 664.5,507.4 665.4,507.23 666.29,507.06 667.18,506.89 668.08,506.71 668.97,506.53 669.86,506.35 670.75,506.17 671.64,505.98 672.54,505.79 673.43,505.6 674.32,505.4 675.22,505.2 676.11,505 677,504.79" fill="none" stroke="#1a1a1a" stroke-width="0.6" stroke-linejoin="round" stroke-linecap="round"/>
<polyline points="498.5,516.07 499.39,516.06 500.29,516.05 501.18,516.05 502.07,516.04 502.96,516.04 503.86,516.03 504.75,516.03 505.64,516.02 506.53,516.01 507.43,516.01 508.32,516 509.21,515.99 510.1,515.99 511,515.98 511.89,515.97 512.78,515.96 513.67,515.95 514.57,515.95 515.46,515.94 516.35,515.93 517.24,515.92 518.13,515.91 519.03,515.9 519.92,515.89 520.81,515.88 521.71,515.87 522.6,515.86 523.49,515.85 524.38,515.83 525.27,515.82 526.17,515.81 527.06,515.8 527.95,515.79 528.85,515.77 529.74,515.76 530.63,515.74 531.52,515.73 532.41,515.71 533.31,515.7 534.2,515.68 535.09,515.67 535.99,515.65 536.88,515.63 537.77,515.62 538.66,515.6 539.55,515.58 540.45,515.56 541.34,515.54 542.23,515.52 543.12,515.5 544.02,515.48 544.91,515.46 545.8,515.43 546.7,515.41 547.59,515.39 548.48,515.36 549.37,515.34 550.26,515.31 551.16,515.29 552.05,515.26 552.94,515.23 553.84,515.21 554.73,515.18 555.62,515.15 556.51,515.12 557.4,515.09 558.3,515.06 559.19,515.02 560.08,514.99 560.98,514.96 561.87,514.92 562.76,514.89 563.65,514.85 564.54,514.81 565.44,514.77 566.33,514.73 567.22,514.69 568.12,514.65 569.01,514.61 569.9,514.57 570.79,514.52 571.68,514.48 572.58,514.43 573.47,514.39 574.36,514.34 575.25,514.29 576.15,514.24 577.04,514.19 577.93,514.13 578.83,514.08 579.72,514.02 580.61,513.97 581.5,513.91 582.39,513.85 583.29,513.79 584.18,513.73 585.07,513.66 585.97,513.6 586.86,513.53 587.75,513.47 588.64,513.4 589.53,513.33 590.43,513.26 591.32,513.18 592.21,513.11 593.11,513.03 594,512.95 594.89,512.87 595.78,512.79 596.67,512.71 597.57,512.62 598.46,512.54 599.35,512.45 600.25,512.36 601.14,512.27 602.03,512.17 602.92,512.08 603.82,511.98 604.71,511.88 605.6,511.78 606.49,511.67 607.38,511.57 608.28,511.46 609.17,511.35 610.06,511.24 610.96,511.12 611.85,511 612.74,510.89 613.63,510.76 614.52,510.64 615.42,510.51 616.31,510.38 617.2,510.25 618.1,510.12 618.99,509.98 619.88,509.84 620.77,509.7 621.66,509.56 622.56,509.41 623.45,509.26 624.34,509.11 625.24,508.95 626.13,508.79 627.02,508.63 627.91,508.46 628.81,508.3 629.7,508.13 630.59,507.95 631.48,507.77 632.38,507.59 633.27,507.41 634.16,507.22 635.05,507.03 635.94,506.84 636.84,506.64 637.73,506.44 638.62,506.23 639.51,506.03 640.41,505.81 641.3,505.6 642.19,505.38 643.09,505.15 643.98,504.93 644.87,504.7 645.76,504.46 646.65,504.22 647.55,503.98 648.44,503.73 649.33,503.48 650.23,503.22 651.12,502.96 652.01,502.69 652.9,502.42 653.79,502.15 654.69,501.87 655.58,501.58 656.47,501.29 657.37,501 658.26,500.7 659.15,500.4 660.04,500.09 660.93,499.77 661.83,499.45 662.72,499.13 663.61,498.8 664.5,498.46 665.4,498.12 666.29,497.78 667.18,497.42 668.08,497.06 668.97,496.7 669.86,496.33 670.75,495.95 671.64,495.57 672.54,495.18 673.43,494.79 674.32,494.39 675.22,493.98 676.11,493.57 677,493.15" fill="none" stroke="#1a1a1a" stroke-width="0.6" stroke-linejoin="round" stroke-linecap="round"/>
<polyline points="498.5,515.86 499.39,515.85 500.29,515.84 501.18,515.82 502.07,515.81 502.96,515.8 503.86,515.78 504.75,515.77 505.64,515.75 506.53,515.73 507.43,515.72 508.32,515.7 509.21,515.68 510.1,515.66 511,515.65 511.89,515.63 512.78,515.61 513.67,515.59 514.57,515.57 515.46,515.54 516.35,515.52 517.24,515.5 518.13,515.47 519.03,515.45 519.92,515.42 520.81,515.4 521.71,515.37 522.6,515.34 523.49,515.32 524.38,515.29 525.27,515.26 526.17,515.23 527.06,515.19 527.95,515.16 528.85,515.13 529.74,515.09 530.63,515.06 531.52,515.02 532.41,514.98 533.31,514.95 534.2,514.91 535.09,514.87 535.99,514.82 536.88,514.78 537.77,514.74 538.66,514.69 539.55,514.65 540.45,514.6 541.34,514.55 542.23,514.5 543.12,514.45 544.02,514.39 544.91,514.34 545.8,514.28 546.7,514.23 547.59,514.17 548.48,514.11 549.37,514.05 550.26,513.98 551.16,513.92 552.05,513.85 552.94,513.78 553.84,513.71 554.73,513.64 555.62,513.57 556.51,513.49 557.4,513.41 558.3,513.33 559.19,513.25 560.08,513.17 560.98,513.09 561.87,513 562.76,512.91 563.65,512.82 564.54,512.72 565.44,512.63 566.33,512.53 567.22,512.43 568.12,512.32 569.01,512.22 569.9,512.11 570.79,512 571.68,511.89 572.58,511.77 573.47,511.65 574.36,511.53 575.25,511.41 576.15,511.28 577.04,511.15 577.93,511.02 578.83,510.88 579.72,510.74 580.61,510.6 581.5,510.45 582.39,510.31 583.29,510.15 584.18,510 585.07,509.84 585.97,509.68 586.86,509.51 587.75,509.34 588.64,509.17 589.53,508.99 590.43,508.81 591.32,508.63 592.21,508.44 593.11,508.25 594,508.05 594.89,507.85 595.78,507.64 596.67,507.43 597.57,507.22 598.46,507 599.35,506.78 600.25,506.55 601.14,506.32 602.03,506.08 602.92,505.84 603.82,505.59 604.71,505.34 605.6,505.08 606.49,504.82 607.38,504.55 608.28,504.27 609.17,503.99 610.06,503.71 610.96,503.42 611.85,503.12 612.74,502.82 613.63,502.51 614.52,502.19 615.42,501.87 616.31,501.55 617.2,501.21 618.1,500.87 618.99,500.52 619.88,500.17 620.77,499.81 621.66,499.44 622.56,499.07 623.45,498.68 624.34,498.29 625.24,497.9 626.13,497.49 627.02,497.08 627.91,496.66 628.81,496.23 629.7,495.79 630.59,495.35 631.48,494.9 632.38,494.43 633.27,493.96 634.16,493.48 635.05,493 635.94,492.5 636.84,491.99 637.73,491.48 638.62,490.95 639.51,490.41 640.41,489.87 641.3,489.31 642.19,488.75 643.09,488.17 643.98,487.59 644.87,486.99 645.76,486.38 646.65,485.76 647.55,485.13 648.44,484.49 649.33,483.84 650.23,483.17 651.12,482.5 652.01,481.81 652.9,481.11 653.79,480.39 654.69,479.67 655.58,478.93 656.47,478.17 657.37,477.41 658.26,476.63 659.15,475.84 660.04,475.03 660.93,474.21 661.83,473.37 662.72,472.52 663.61,471.66 664.5,470.78 665.4,469.88 666.29,468.97 667.18,468.04 668.08,467.1 668.97,466.14 669.86,465.17 670.75,464.17 671.64,463.16 672.54,462.14 673.43,461.09 674.32,460.03 675.22,458.95 676.11,457.85 677,456.73" fill="none" stroke="#1a1a1a" stroke-width="0.6" stroke-linejoin="round" stroke-linecap="round"/>
<polyline points="498.5,515.52 499.39,515.5 500.29,515.47 501.18,515.45 502.07,515.42 502.96,515.39 503.86,515.36 504.75,515.33 505.64,515.3 506.53,515.27 507.43,515.24 508.32,515.2 509.21,515.17 510.1,515.13 511,515.09 511.89,515.05 512.78,515.01 513.67,514.97 514.57,514.93 515.46,514.89 516.35,514.84 517.24,514.8 518.13,514.75 519.03,514.7 519.92,514.65 520.81,514.6 521.71,514.54 522.6,514.49 523.49,514.43 524.38,514.37 525.27,514.31 526.17,514.25 527.06,514.19 527.95,514.12 528.85,514.05 529.74,513.99 530.63,513.91 531.52,513.84 532.41,513.77 533.31,513.69 534.2,513.61 535.09,513.53 535.99,513.45 536.88,513.36 537.77,513.27 538.66,513.18 539.55,513.09 540.45,512.99 541.34,512.89 542.23,512.79 543.12,512.69 544.02,512.58 544.91,512.47 545.8,512.36 546.7,512.25 547.59,512.13 548.48,512.01 549.37,511.88 550.26,511.76 551.16,511.63 552.05,511.49 552.94,511.35 553.84,511.21 554.73,511.07 555.62,510.92 556.51,510.77 557.4,510.61 558.3,510.45 559.19,510.29 560.08,510.12 560.98,509.95 561.87,509.78 562.76,509.6 563.65,509.41 564.54,509.22 565.44,509.03 566.33,508.83 567.22,508.63 568.12,508.42 569.01,508.21 569.9,507.99 570.79,507.77 571.68,507.54 572.58,507.31 573.47,507.07 574.36,506.82 575.25,506.57 576.15,506.32 577.04,506.05 577.93,505.79 578.83,505.51 579.72,505.23 580.61,504.94 581.5,504.65 582.39,504.35 583.29,504.04 584.18,503.73 585.07,503.41 585.97,503.08 586.86,502.74 587.75,502.4 588.64,502.05 589.53,501.69 590.43,501.33 591.32,500.95 592.21,500.57 593.11,500.18 594,499.78 594.89,499.37 595.78,498.95 596.67,498.53 597.57,498.09 598.46,497.65 599.35,497.19 600.25,496.73 601.14,496.26 602.03,495.77 602.92,495.28 603.82,494.77 604.71,494.26 605.6,493.73 606.49,493.2 607.38,492.65 608.28,492.09 609.17,491.52 610.06,490.93 610.96,490.34 611.85,489.73 612.74,489.11 613.63,488.48 614.52,487.83 615.42,487.18 616.31,486.5 617.2,485.82 618.1,485.12 618.99,484.4 619.88,483.68 620.77,482.93 621.66,482.17 622.56,481.4 623.45,480.61 624.34,479.81 625.24,478.99 626.13,478.15 627.02,477.29 627.91,476.42 628.81,475.54 629.7,474.63 630.59,473.71 631.48,472.77 632.38,471.8 633.27,470.83 634.16,469.83 635.05,468.81 635.94,467.77 636.84,466.71 637.73,465.63 638.62,464.53 639.51,463.41 640.41,462.27 641.3,461.1 642.19,459.92 643.09,458.71 643.98,457.47 644.87,456.21 645.76,454.93 646.65,453.62 647.55,452.29 648.44,450.93 649.33,449.55 650.23,448.14 651.12,446.7 652.01,445.24 652.9,443.74 653.79,442.22 654.69,440.67 655.58,439.09 656.47,437.48 657.37,435.83 658.26,434.16 659.15,432.45 660.04,430.72 660.93,428.95 661.83,427.14 662.72,425.3 663.61,423.43 664.5,421.52 665.4,419.57 666.29,417.58 667.18,415.56 668.08,413.5 668.97,411.4 669.86,409.26 670.75,407.08 671.64,404.85 672.54,402.59 673.43,400.28 674.32,397.92 675.22,395.53 676.11,393.08 677,390.59" fill="none" stroke="#1a1a1a" stroke-width="0.6" stroke-linejoin="round" stroke-linecap="round"/>
<polyline points="498.5,514.85 499.39,514.8 500.29,514.75 501.18,514.69 502.07,514.64 502.96,514.58 503.86,514.52 504.75,514.46 505.64,514.4 506.53,514.34 507.43,514.27 508.32,514.2 509.21,514.13 510.1,514.06 511,513.98 511.89,513.9 512.78,513.82 513.67,513.74 514.57,513.66 515.46,513.57 516.35,513.48 517.24,513.39 518.13,513.29 519.03,513.19 519.92,513.09 520.81,512.99 521.71,512.88 522.6,512.77 523.49,512.66 524.38,512.54 525.27,512.42 526.17,512.29 527.06,512.17 527.95,512.04 528.85,511.9 529.74,511.76 530.63,511.62 531.52,511.47 532.41,511.32 533.31,511.17 534.2,511.01 535.09,510.85 535.99,510.68 536.88,510.5 537.77,510.33 538.66,510.14 539.55,509.96 540.45,509.76 541.34,509.57 542.23,509.36 543.12,509.16 544.02,508.94 544.91,508.72 545.8,508.5 546.7,508.27 547.59,508.03 548.48,507.78 549.37,507.53 550.26,507.28 551.16,507.01 552.05,506.74 552.94,506.47 553.84,506.18 554.73,505.89 555.62,505.59 556.51,505.29 557.4,504.97 558.3,504.65 559.19,504.32 560.08,503.98 560.98,503.64 561.87,503.28 562.76,502.92 563.65,502.54 564.54,502.16 565.44,501.77 566.33,501.37 567.22,500.96 568.12,500.53 569.01,500.1 569.9,499.66 570.79,499.21 571.68,498.74 572.58,498.27 573.47,497.78 574.36,497.29 575.25,496.78 576.15,496.26 577.04,495.72 577.93,495.18 578.83,494.62 579.72,494.04 580.61,493.46 581.5,492.86 582.39,492.25 583.29,491.62 584.18,490.98 585.07,490.32 585.97,489.65 586.86,488.96 587.75,488.26 588.64,487.54 589.53,486.8 590.43,486.05 591.32,485.28 592.21,484.49 593.11,483.69 594,482.87 594.89,482.03 595.78,481.17 596.67,480.29 597.57,479.39 598.46,478.47 599.35,477.53 600.25,476.57 601.14,475.59 602.03,474.59 602.92,473.56 603.82,472.51 604.71,471.44 605.6,470.35 606.49,469.23 607.38,468.09 608.28,466.92 609.17,465.72 610.06,464.5 610.96,463.26 611.85,461.98 612.74,460.68 613.63,459.35 614.52,457.99 615.42,456.61 616.31,455.19 617.2,453.74 618.1,452.26 618.99,450.75 619.88,449.2 620.77,447.63 621.66,446.01 622.56,444.37 623.45,442.69 624.34,440.97 625.24,439.21 626.13,437.42 627.02,435.59 627.91,433.72 628.81,431.81 629.7,429.86 630.59,427.86 631.48,425.82 632.38,423.74 633.27,421.62 634.16,419.45 635.05,417.23 635.94,414.96 636.84,412.65 637.73,410.28 638.62,407.87 639.51,405.4 640.41,402.88 641.3,400.31 642.19,397.68 643.09,394.99 643.98,392.24 644.87,389.43 645.76,386.57 646.65,383.64 647.55,380.64 648.44,377.59 649.33,374.46 650.23,371.27 651.12,368 652.01,364.67 652.9,361.26" fill="none" stroke="#1a1a1a" stroke-width="0.6" stroke-linejoin="round" stroke-linecap="round"/>
<polyline points="498.5,513.49 499.39,513.39 500.29,513.29 501.18,513.18 502.07,513.07 502.96,512.96 503.86,512.84 504.75,512.72 505.64,512.59 506.53,512.46 507.43,512.33 508.32,512.19 509.21,512.05 510.1,511.91 511,511.75 511.89,511.6 512.78,511.44 513.67,511.27 514.57,511.1 515.46,510.93 516.35,510.75 517.24,510.56 518.13,510.37 519.03,510.17 519.92,509.97 520.81,509.76 521.71,509.54 522.6,509.32 523.49,509.09 524.38,508.85 525.27,508.61 526.17,508.36 527.06,508.11 527.95,507.84 528.85,507.57 529.74,507.29 530.63,507 531.52,506.71 532.41,506.4 533.31,506.09 534.2,505.77 535.09,505.44 535.99,505.1 536.88,504.75 537.77,504.39 538.66,504.02 539.55,503.64 540.45,503.25 541.34,502.85 542.23,502.44 543.12,502.02 544.02,501.59 544.91,501.14 545.8,500.69 546.7,500.22 547.59,499.74 548.48,499.24 549.37,498.73 550.26,498.21 551.16,497.68 552.05,497.13 552.94,496.56 553.84,495.99 554.73,495.39 555.62,494.78 556.51,494.16 557.4,493.52 558.3,492.86 559.19,492.19 560.08,491.49 560.98,490.79 561.87,490.06 562.76,489.31 563.65,488.55 564.54,487.76 565.44,486.96 566.33,486.13 567.22,485.29 568.12,484.42 569.01,483.53 569.9,482.62 570.79,481.69 571.68,480.74 572.58,479.76 573.47,478.75 574.36,477.72 575.25,476.67 576.15,475.59 577.04,474.48 577.93,473.35 578.83,472.18 579.72,470.99 580.61,469.77 581.5,468.52 582.39,467.24 583.29,465.93 584.18,464.59 585.07,463.21 585.97,461.81 586.86,460.36 587.75,458.88 588.64,457.37 589.53,455.82 590.43,454.23 591.32,452.61 592.21,450.94 593.11,449.24 594,447.49 594.89,445.7 595.78,443.87 596.67,442 597.57,440.07 598.46,438.11 599.35,436.09 600.25,434.03 601.14,431.92 602.03,429.76 602.92,427.54 603.82,425.28 604.71,422.96 605.6,420.58 606.49,418.14 607.38,415.65 608.28,413.1 609.17,410.48 610.06,407.8 610.96,405.06 611.85,402.25 612.74,399.37 613.63,396.42 614.52,393.4 615.42,390.31 616.31,387.14 617.2,383.9 618.1,380.58 618.99,377.17 619.88,373.68 620.77,370.1 621.66,366.44 622.56,362.69" fill="none" stroke="#1a1a1a" stroke-width="0.6" stroke-linejoin="round" stroke-linecap="round"/>
<polyline points="498.5,512.14 499.39,511.99 500.29,511.83 501.18,511.67 502.07,511.5 502.96,511.33 503.86,511.15 504.75,510.97 505.64,510.78 506.53,510.59 507.43,510.39 508.32,510.18 509.21,509.97 510.1,509.75 511,509.52 511.89,509.28 512.78,509.04 513.67,508.79 514.57,508.54 515.46,508.27 516.35,508 517.24,507.72 518.13,507.43 519.03,507.13 519.92,506.82 520.81,506.51 521.71,506.18 522.6,505.85 523.49,505.5 524.38,505.15 525.27,504.78 526.17,504.4 527.06,504.01 527.95,503.62 528.85,503.2 529.74,502.78 530.63,502.35 531.52,501.9 532.41,501.44 533.31,500.97 534.2,500.48 535.09,499.98 535.99,499.47 536.88,498.94 537.77,498.39 538.66,497.83 539.55,497.26 540.45,496.67 541.34,496.06 542.23,495.44 543.12,494.8 544.02,494.14 544.91,493.46 545.8,492.77 546.7,492.05 547.59,491.32 548.48,490.57 549.37,489.79 550.26,489 551.16,488.18 552.05,487.35 552.94,486.49 553.84,485.6 554.73,484.7 555.62,483.76 556.51,482.81 557.4,481.83 558.3,480.82 559.19,479.79 560.08,478.73 560.98,477.64 561.87,476.52 562.76,475.38 563.65,474.2 564.54,473 565.44,471.76 566.33,470.49 567.22,469.18 568.12,467.85 569.01,466.48 569.9,465.07 570.79,463.63 571.68,462.15 572.58,460.63 573.47,459.07 574.36,457.47 575.25,455.84 576.15,454.16 577.04,452.43 577.93,450.66 578.83,448.85 579.72,446.99 580.61,445.09 581.5,443.13 582.39,441.12 583.29,439.07 584.18,436.96 585.07,434.79 585.97,432.58 586.86,430.3 587.75,427.97 588.64,425.57 589.53,423.12 590.43,420.6 591.32,418.02 592.21,415.37 593.11,412.66 594,409.87 594.89,407.01 595.78,404.08 596.67,401.08 597.57,397.99 598.46,394.83 599.35,391.58 600.25,388.25 601.14,384.84 602.03,381.33 602.92,377.73 603.82,374.04 604.71,370.26 605.6,366.37 606.49,362.38" fill="none" stroke="#1a1a1a" stroke-width="0.6" stroke-linejoin="round" stroke-linecap="round"/>
<polyline points="498.5,510.77 499.39,510.57 500.29,510.36 501.18,510.15 502.07,509.93 502.96,509.7 503.86,509.46 504.75,509.22 505.64,508.96 506.53,508.7 507.43,508.44 508.32,508.16 509.21,507.87 510.1,507.58 511,507.27 511.89,506.96 512.78,506.64 513.67,506.3 514.57,505.96 515.46,505.6 516.35,505.24 517.24,504.86 518.13,504.47 519.03,504.08 519.92,503.66 520.81,503.24 521.71,502.8 522.6,502.35 523.49,501.89 524.38,501.41 525.27,500.92 526.17,500.41 527.06,499.89 527.95,499.36 528.85,498.81 529.74,498.24 530.63,497.65 531.52,497.05 532.41,496.43 533.31,495.8 534.2,495.14 535.09,494.47 535.99,493.78 536.88,493.06 537.77,492.33 538.66,491.58 539.55,490.8 540.45,490.01 541.34,489.19 542.23,488.35 543.12,487.48 544.02,486.59 544.91,485.68 545.8,484.74 546.7,483.77 547.59,482.78 548.48,481.76 549.37,480.71 550.26,479.64 551.16,478.53 552.05,477.39 552.94,476.23 553.84,475.03 554.73,473.8 555.62,472.53 556.51,471.23 557.4,469.9 558.3,468.53 559.19,467.12 560.08,465.67 560.98,464.19 561.87,462.67 562.76,461.1 563.65,459.49 564.54,457.84 565.44,456.15 566.33,454.41 567.22,452.62 568.12,450.79 569.01,448.91 569.9,446.97 570.79,444.99 571.68,442.95 572.58,440.86 573.47,438.71 574.36,436.5 575.25,434.24 576.15,431.92 577.04,429.53 577.93,427.08 578.83,424.56 579.72,421.98 580.61,419.33 581.5,416.61 582.39,413.81 583.29,410.94 584.18,407.99 585.07,404.96 585.97,401.85 586.86,398.66 587.75,395.38 588.64,392.02 589.53,388.56 590.43,385 591.32,381.35 592.21,377.6 593.11,373.75 594,369.79 594.89,365.73 595.78,361.55" fill="none" stroke="#1a1a1a" stroke-width="0.6" stroke-linejoin="round" stroke-linecap="round"/>
<polyline points="498.5,509.41 499.39,509.16 500.29,508.9 501.18,508.63 502.07,508.35 502.96,508.06 503.86,507.76 504.75,507.46 505.64,507.14 506.53,506.81 507.43,506.48 508.32,506.13 509.21,505.77 510.1,505.4 511,505.02 511.89,504.63 512.78,504.22 513.67,503.8 514.57,503.37 515.46,502.92 516.35,502.47 517.24,501.99 518.13,501.51 519.03,501 519.92,500.49 520.81,499.95 521.71,499.4 522.6,498.84 523.49,498.25 524.38,497.65 525.27,497.03 526.17,496.4 527.06,495.74 527.95,495.07 528.85,494.37 529.74,493.66 530.63,492.92 531.52,492.16 532.41,491.38 533.31,490.58 534.2,489.75 535.09,488.9 535.99,488.03 536.88,487.13 537.77,486.2 538.66,485.25 539.55,484.27 540.45,483.27 541.34,482.23 542.23,481.16 543.12,480.07 544.02,478.94 544.91,477.78 545.8,476.59 546.7,475.37 547.59,474.11 548.48,472.82 549.37,471.49 550.26,470.12 551.16,468.71 552.05,467.27 552.94,465.78 553.84,464.26 554.73,462.69 555.62,461.08 556.51,459.42 557.4,457.72 558.3,455.97 559.19,454.17 560.08,452.32 560.98,450.42 561.87,448.47 562.76,446.47 563.65,444.41 564.54,442.29 565.44,440.12 566.33,437.88 567.22,435.58 568.12,433.22 569.01,430.8 569.9,428.31 570.79,425.75 571.68,423.12 572.58,420.41 573.47,417.63 574.36,414.78 575.25,411.84 576.15,408.82 577.04,405.72 577.93,402.54 578.83,399.26 579.72,395.9 580.61,392.43 581.5,388.88 582.39,385.22 583.29,381.46 584.18,377.59 585.07,373.61 585.97,369.52 586.86,365.32 587.75,360.99" fill="none" stroke="#1a1a1a" stroke-width="0.6" stroke-linejoin="round" stroke-linecap="round"/>
<line x1="548.3" y1="391.3" x2="548.3" y2="516.2" stroke="#fbc02d" stroke-width="1.2"/>
<line x1="542.4" y1="391.3" x2="542.4" y2="516.2" stroke="#fbc02d" stroke-width="1.0" stroke-dasharray="2,1.5"/>
<polyline points="542.8,506 544.66,505.72 547.21,505.35 550.24,504.91 553.53,504.39 556.86,503.82 560,503.2 563.04,502.55 566.18,501.87 569.36,501.12 572.51,500.3 575.58,499.37 578.5,498.3 581.28,497.09 583.96,495.77 586.56,494.34 589.09,492.81 591.56,491.19 594,489.5 596.44,487.64 598.87,485.59 601.24,483.44 603.52,481.33 605.66,479.34 607.6,477.6 609.31,476.13 610.81,474.85 612.17,473.71 613.45,472.64 614.71,471.59 616,470.5 617.33,469.41 618.64,468.36 619.93,467.33 621.19,466.3 622.41,465.23 623.6,464.1 624.74,462.9 625.84,461.64 626.91,460.34 627.95,459.04 628.98,457.75 630,456.5 631.02,455.31 632.03,454.18 633.03,453.06 634.01,451.92 634.97,450.71 635.9,449.4 636.75,448.08 637.51,446.79 638.26,445.44 639.04,443.93 639.93,442.15 641,440 642.28,437.43 643.71,434.5 645.26,431.31 646.86,427.94 648.46,424.47 650,421 651.59,417.2 653.3,412.96 655.01,408.61 656.6,404.53 657.93,401.08 658.9,398.6" fill="none" stroke="#e8332e" stroke-width="1.2" stroke-linejoin="round" stroke-linecap="round" stroke-dasharray="3.6,2.4"/>
<polyline points="548.4,472.2 548.89,471.31 549.59,470.06 550.41,468.58 551.24,467.02 552.01,465.52 552.6,464.2 552.97,463.12 553.17,462.17 553.3,461.28 553.44,460.35 553.68,459.32 554.1,458.1 554.72,456.7 555.48,455.18 556.33,453.55 557.24,451.82 558.18,450 559.1,448.1 560.02,446.07 560.97,443.91 561.95,441.66 562.94,439.36 563.92,437.05 564.9,434.8 565.89,432.56 566.89,430.3 567.9,428.04 568.89,425.81 569.83,423.62 570.7,421.5 571.51,419.45 572.26,417.44 572.98,415.49 573.65,413.58 574.29,411.72 574.9,409.9 575.5,408.08 576.07,406.26 576.62,404.47 577.11,402.8 577.55,401.29 577.9,400 578.16,398.95 578.33,398.08 578.44,397.38 578.5,396.82 578.55,396.37 578.6,396" fill="none" stroke="#e8332e" stroke-width="1.2" stroke-linejoin="round" stroke-linecap="round"/>
</g>
<line x1="658.9" y1="398.6" x2="583" y2="398.6" stroke="#e3312b" stroke-width="1.4"/>
<path d="M579.3,398.6 L585.5,395.6 L583.8,398.6 L585.5,401.6 Z" fill="#e3312b"/>
<line x1="623.6" y1="464.1" x2="557.5" y2="464.1" stroke="#e3312b" stroke-width="1.4"/>
<path d="M553.8,464.1 L560,461.1 L558.3,464.1 L560,467.1 Z" fill="#e3312b"/>
<line x1="549" y1="398.6" x2="578" y2="398.6" stroke="#fbc02d" stroke-width="1.1"/>
<path d="M548.6,398.6 L553.5,396.1 M548.6,398.6 L553.5,401.1 M578.4,398.6 L573.5,396.1 M578.4,398.6 L573.5,401.1" stroke="#fbc02d" stroke-width="1.1" fill="none"/>
<line x1="578.7" y1="392.4" x2="578.7" y2="404.9" stroke="#fbc02d" stroke-width="1.1"/>
<line x1="538.8" y1="458.5" x2="562.4" y2="458.5" stroke="#fbc02d" stroke-width="1.0"/>
<path d="M547.2,458.5 L543,456.3 M547.2,458.5 L543,460.7 M553.8,458.5 L558,456.3 M553.8,458.5 L558,460.7" stroke="#fbc02d" stroke-width="1.0" fill="none"/>
<line x1="552.8" y1="454.8" x2="552.8" y2="467.3" stroke="#fbc02d" stroke-width="1.1"/>
<rect x="551.6" y="462.3" width="2.4" height="4.4" fill="#f08a3a"/>
<circle cx="548.4" cy="472.2" r="2.6" fill="#e3312b"/>
<circle cx="623.6" cy="464.1" r="2.6" fill="#e3312b"/>
<circle cx="658.9" cy="398.6" r="2.6" fill="#e3312b"/>
<circle cx="542.8" cy="506" r="2.6" fill="#a9cff2"/>
<path d="M560.7,411.5 L567.4,419 L563.9,419 C563.7,424 562.6,428.8 560.6,431.8 C558.9,434.6 556.9,437.2 554.7,439.6 C556.5,434.5 557.3,430.5 557.3,426 L557.6,419 L554.1,419 Z" fill="#d62a22"/>
<rect x="498.3" y="372.2" width="178.9" height="144" fill="none" stroke="#111" stroke-width="1.3"/>
<line x1="498.5" y1="516.2" x2="498.5" y2="513.6" stroke="#111" stroke-width="1.0"/>
<line x1="516.35" y1="516.2" x2="516.35" y2="513.6" stroke="#111" stroke-width="1.0"/>
<line x1="534.2" y1="516.2" x2="534.2" y2="513.6" stroke="#111" stroke-width="1.0"/>
<line x1="552.05" y1="516.2" x2="552.05" y2="513.6" stroke="#111" stroke-width="1.0"/>
<line x1="569.9" y1="516.2" x2="569.9" y2="513.6" stroke="#111" stroke-width="1.0"/>
<line x1="587.75" y1="516.2" x2="587.75" y2="513.6" stroke="#111" stroke-width="1.0"/>
<line x1="605.6" y1="516.2" x2="605.6" y2="513.6" stroke="#111" stroke-width="1.0"/>
<line x1="623.45" y1="516.2" x2="623.45" y2="513.6" stroke="#111" stroke-width="1.0"/>
<line x1="641.3" y1="516.2" x2="641.3" y2="513.6" stroke="#111" stroke-width="1.0"/>
<line x1="659.15" y1="516.2" x2="659.15" y2="513.6" stroke="#111" stroke-width="1.0"/>
<line x1="677" y1="516.2" x2="677" y2="513.6" stroke="#111" stroke-width="1.0"/>
<line x1="507.43" y1="516.2" x2="507.43" y2="514.7" stroke="#111" stroke-width="1.0"/>
<line x1="525.27" y1="516.2" x2="525.27" y2="514.7" stroke="#111" stroke-width="1.0"/>
<line x1="543.12" y1="516.2" x2="543.12" y2="514.7" stroke="#111" stroke-width="1.0"/>
<line x1="560.98" y1="516.2" x2="560.98" y2="514.7" stroke="#111" stroke-width="1.0"/>
<line x1="578.83" y1="516.2" x2="578.83" y2="514.7" stroke="#111" stroke-width="1.0"/>
<line x1="596.67" y1="516.2" x2="596.67" y2="514.7" stroke="#111" stroke-width="1.0"/>
<line x1="614.52" y1="516.2" x2="614.52" y2="514.7" stroke="#111" stroke-width="1.0"/>
<line x1="632.38" y1="516.2" x2="632.38" y2="514.7" stroke="#111" stroke-width="1.0"/>
<line x1="650.23" y1="516.2" x2="650.23" y2="514.7" stroke="#111" stroke-width="1.0"/>
<line x1="668.08" y1="516.2" x2="668.08" y2="514.7" stroke="#111" stroke-width="1.0"/>
<text x="498.5" y="526.6" font-size="9.0" text-anchor="middle" fill="#1a1a1a" font-weight="normal" stroke="#1a1a1a" stroke-width="0.22" style="">0</text>
<text x="516.35" y="526.6" font-size="9.0" text-anchor="middle" fill="#1a1a1a" font-weight="normal" stroke="#1a1a1a" stroke-width="0.22" style="">10</text>
<text x="534.2" y="526.6" font-size="9.0" text-anchor="middle" fill="#1a1a1a" font-weight="normal" stroke="#1a1a1a" stroke-width="0.22" style="">20</text>
<text x="552.05" y="526.6" font-size="9.0" text-anchor="middle" fill="#1a1a1a" font-weight="normal" stroke="#1a1a1a" stroke-width="0.22" style="">30</text>
<text x="569.9" y="526.6" font-size="9.0" text-anchor="middle" fill="#1a1a1a" font-weight="normal" stroke="#1a1a1a" stroke-width="0.22" style="">40</text>
<text x="587.75" y="526.6" font-size="9.0" text-anchor="middle" fill="#1a1a1a" font-weight="normal" stroke="#1a1a1a" stroke-width="0.22" style="">50</text>
<text x="605.6" y="526.6" font-size="9.0" text-anchor="middle" fill="#1a1a1a" font-weight="normal" stroke="#1a1a1a" stroke-width="0.22" style="">60</text>
<text x="623.45" y="526.6" font-size="9.0" text-anchor="middle" fill="#1a1a1a" font-weight="normal" stroke="#1a1a1a" stroke-width="0.22" style="">70</text>
<text x="641.3" y="526.6" font-size="9.0" text-anchor="middle" fill="#1a1a1a" font-weight="normal" stroke="#1a1a1a" stroke-width="0.22" style="">80</text>
<text x="659.15" y="526.6" font-size="9.0" text-anchor="middle" fill="#1a1a1a" font-weight="normal" stroke="#1a1a1a" stroke-width="0.22" style="">90</text>
<text x="677" y="526.6" font-size="9.0" text-anchor="middle" fill="#1a1a1a" font-weight="normal" stroke="#1a1a1a" stroke-width="0.22" style="">100</text>
<line x1="498.3" y1="516.2" x2="500.9" y2="516.2" stroke="#111" stroke-width="1.0"/>
<line x1="498.3" y1="498.2" x2="500.9" y2="498.2" stroke="#111" stroke-width="1.0"/>
<line x1="498.3" y1="480.2" x2="500.9" y2="480.2" stroke="#111" stroke-width="1.0"/>
<line x1="498.3" y1="462.2" x2="500.9" y2="462.2" stroke="#111" stroke-width="1.0"/>
<line x1="498.3" y1="444.2" x2="500.9" y2="444.2" stroke="#111" stroke-width="1.0"/>
<line x1="498.3" y1="426.2" x2="500.9" y2="426.2" stroke="#111" stroke-width="1.0"/>
<line x1="498.3" y1="408.2" x2="500.9" y2="408.2" stroke="#111" stroke-width="1.0"/>
<line x1="498.3" y1="390.2" x2="500.9" y2="390.2" stroke="#111" stroke-width="1.0"/>
<line x1="498.3" y1="372.2" x2="500.9" y2="372.2" stroke="#111" stroke-width="1.0"/>
<line x1="498.3" y1="507.2" x2="499.8" y2="507.2" stroke="#111" stroke-width="1.0"/>
<line x1="498.3" y1="489.2" x2="499.8" y2="489.2" stroke="#111" stroke-width="1.0"/>
<line x1="498.3" y1="471.2" x2="499.8" y2="471.2" stroke="#111" stroke-width="1.0"/>
<line x1="498.3" y1="453.2" x2="499.8" y2="453.2" stroke="#111" stroke-width="1.0"/>
<line x1="498.3" y1="435.2" x2="499.8" y2="435.2" stroke="#111" stroke-width="1.0"/>
<line x1="498.3" y1="417.2" x2="499.8" y2="417.2" stroke="#111" stroke-width="1.0"/>
<line x1="498.3" y1="399.2" x2="499.8" y2="399.2" stroke="#111" stroke-width="1.0"/>
<line x1="498.3" y1="381.2" x2="499.8" y2="381.2" stroke="#111" stroke-width="1.0"/>
<text x="495.1" y="519.3" font-size="9.4" text-anchor="end" fill="#1a1a1a" font-weight="normal" stroke="#1a1a1a" stroke-width="0.22" style="">0</text>
<text x="495.1" y="501.3" font-size="9.4" text-anchor="end" fill="#1a1a1a" font-weight="normal" stroke="#1a1a1a" stroke-width="0.22" style="">0.01</text>
<text x="495.1" y="483.3" font-size="9.4" text-anchor="end" fill="#1a1a1a" font-weight="normal" stroke="#1a1a1a" stroke-width="0.22" style="">0.02</text>
<text x="495.1" y="465.3" font-size="9.4" text-anchor="end" fill="#1a1a1a" font-weight="normal" stroke="#1a1a1a" stroke-width="0.22" style="">0.03</text>
<text x="495.1" y="447.3" font-size="9.4" text-anchor="end" fill="#1a1a1a" font-weight="normal" stroke="#1a1a1a" stroke-width="0.22" style="">0.04</text>
<text x="495.1" y="429.3" font-size="9.4" text-anchor="end" fill="#1a1a1a" font-weight="normal" stroke="#1a1a1a" stroke-width="0.22" style="">0.05</text>
<text x="495.1" y="411.3" font-size="9.4" text-anchor="end" fill="#1a1a1a" font-weight="normal" stroke="#1a1a1a" stroke-width="0.22" style="">0.06</text>
<text x="495.1" y="393.3" font-size="9.4" text-anchor="end" fill="#1a1a1a" font-weight="normal" stroke="#1a1a1a" stroke-width="0.22" style="">0.07</text>
<text x="495.1" y="375.3" font-size="9.4" text-anchor="end" fill="#1a1a1a" font-weight="normal" stroke="#1a1a1a" stroke-width="0.22" style="">0.08</text>
<text x="587.8" y="536.9" font-size="9.75" text-anchor="middle" fill="#1a1a1a" font-weight="normal" stroke="#1a1a1a" stroke-width="0.22" style="">Dry bulb temperature (&#176;C)</text>
<text x="473.2" y="442.4" font-size="10.2" text-anchor="middle" fill="#1a1a1a" stroke="#1a1a1a" stroke-width="0.22" transform="rotate(-90 473.2 442.4)">Humidity ratio (kg kg<tspan font-size="6.3" dy="-4.3">-1</tspan><tspan dy="4.3">)</tspan></text>
<text x="614.2" y="394" font-size="8.9" text-anchor="start" fill="#1a1a1a" font-weight="normal" stroke="#1a1a1a" stroke-width="0.22" style="">Concentrated</text>
<text x="591.6" y="475" font-size="8.8" text-anchor="start" fill="#1a1a1a" font-weight="normal" stroke="#1a1a1a" stroke-width="0.22" style="">Unconcentrated</text>
<text x="599.2" y="496.5" font-size="8.8" text-anchor="start" fill="#1a1a1a" font-weight="normal" stroke="#1a1a1a" stroke-width="0.22" style="">Initial heating</text>
<text x="557.6" y="392.4" font-size="8.8" fill="#1a1a1a" stroke="#1a1a1a" stroke-width="0.22">&#916;<tspan font-style="italic">T</tspan><tspan font-size="6" dy="2">2</tspan></text>
<text x="522.7" y="460.7" font-size="8.8" fill="#1a1a1a" stroke="#1a1a1a" stroke-width="0.22">&#916;<tspan font-style="italic">T</tspan><tspan font-size="6" dy="2">1</tspan></text>
<text x="514.0" y="499" font-size="9.8" fill="#1a1a1a" stroke="#1a1a1a" stroke-width="0.22" font-style="italic">T<tspan font-size="5.6" dy="2.2">ambient</tspan></text>
<text x="549.9" y="499" font-size="9.8" fill="#1a1a1a" stroke="#1a1a1a" stroke-width="0.22" font-style="italic">T<tspan font-size="5.2" dy="2.2">condensate</tspan></text>
<text x="587.6" y="369.4" font-size="7.3" text-anchor="start" fill="#222" font-weight="normal" stroke="#222" stroke-width="0.22" transform="rotate(-78 587.6 369.4)" style="">100%</text>
<text x="596.8" y="369.4" font-size="7.3" text-anchor="start" fill="#222" font-weight="normal" stroke="#222" stroke-width="0.22" transform="rotate(-78 596.8 369.4)" style="">80%</text>
<text x="606.6" y="369.4" font-size="7.3" text-anchor="start" fill="#222" font-weight="normal" stroke="#222" stroke-width="0.22" transform="rotate(-78 606.6 369.4)" style="">60%</text>
<text x="622.4" y="369.4" font-size="7.3" text-anchor="start" fill="#222" font-weight="normal" stroke="#222" stroke-width="0.22" transform="rotate(-78 622.4 369.4)" style="">40%</text>
<text x="652.6" y="369.4" font-size="7.3" text-anchor="start" fill="#222" font-weight="normal" stroke="#222" stroke-width="0.22" transform="rotate(-76 652.6 369.4)" style="">20%</text>
<text x="664" y="427" font-size="7.0" text-anchor="start" fill="#222" font-weight="normal" stroke="#222" stroke-width="0.22" transform="rotate(-58 664 427)" style="">10%</text>
<text x="663" y="475.5" font-size="7.0" text-anchor="start" fill="#222" font-weight="normal" stroke="#222" stroke-width="0.22" transform="rotate(-40 663 475.5)" style="">5%</text>
<text x="663" y="501.5" font-size="7.0" text-anchor="start" fill="#222" font-weight="normal" stroke="#222" stroke-width="0.22" transform="rotate(-18 663 501.5)" style="">2%</text>
<text x="664" y="509.5" font-size="7.0" text-anchor="start" fill="#222" font-weight="normal" stroke="#222" stroke-width="0.22" transform="rotate(-12 664 509.5)" style="">1%</text>
</svg></body></html>
